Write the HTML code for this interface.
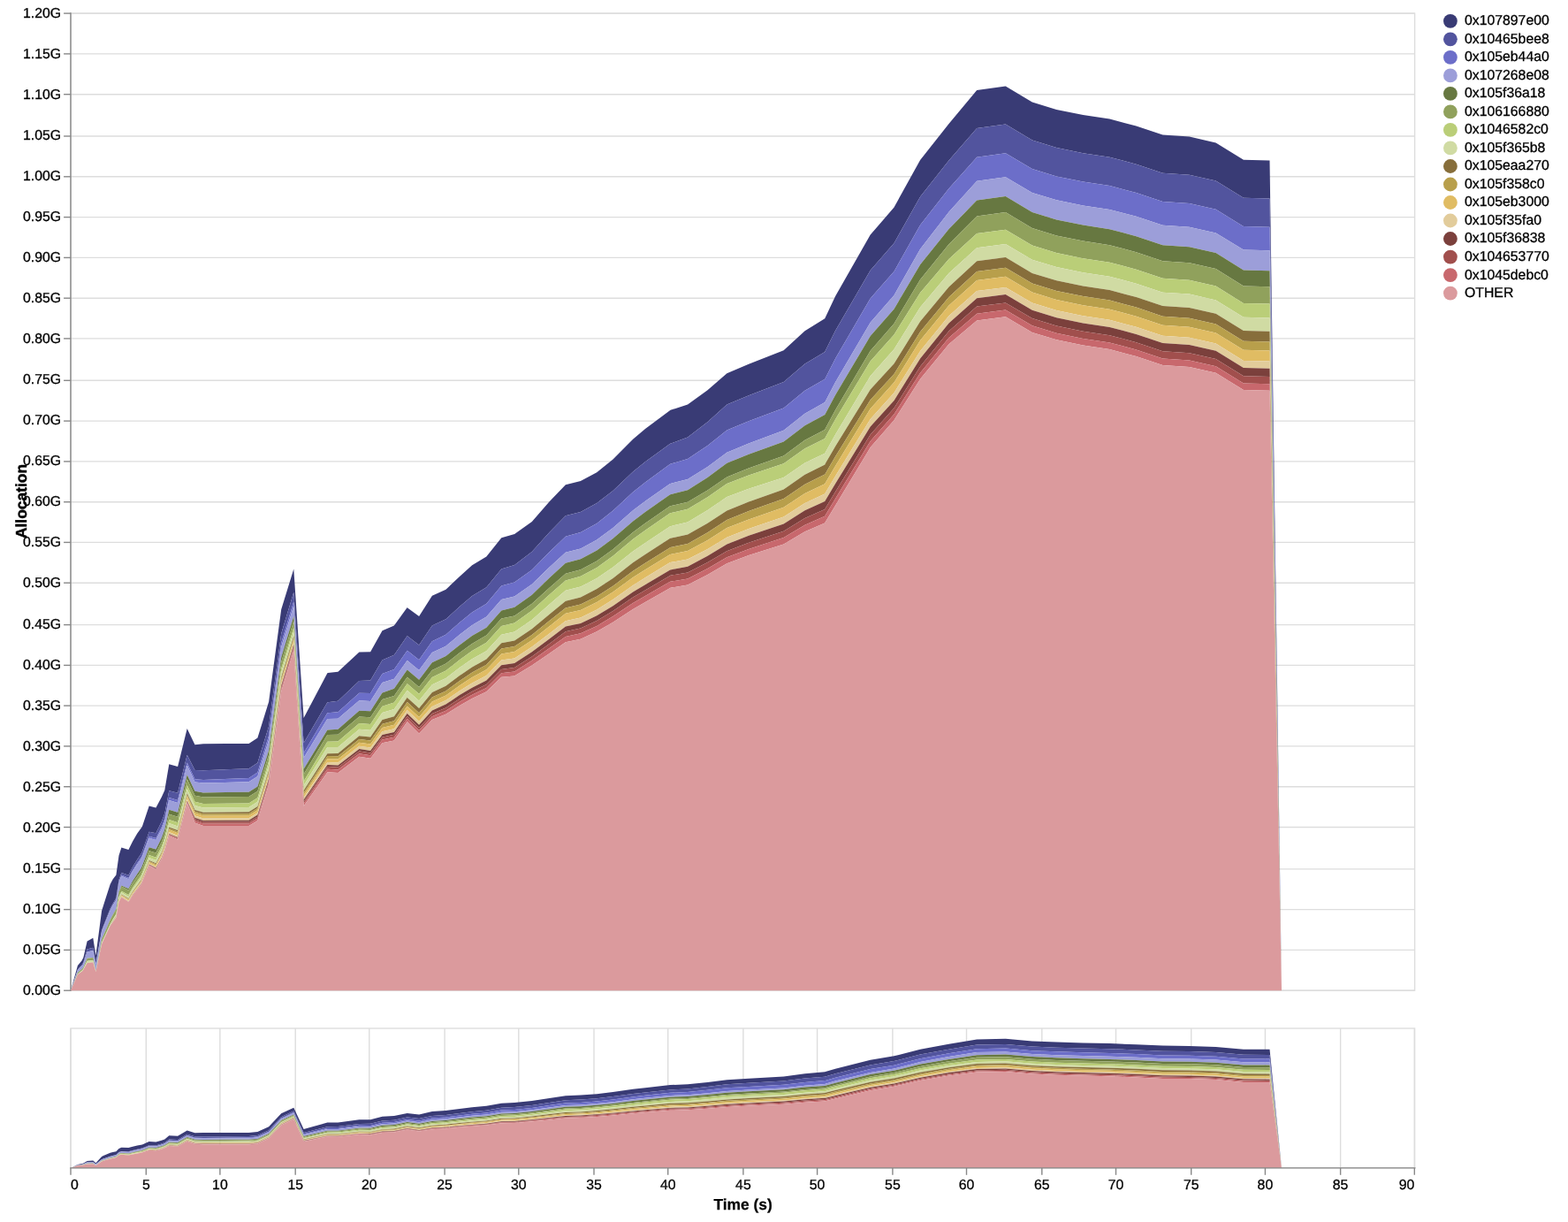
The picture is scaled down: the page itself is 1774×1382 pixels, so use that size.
<!DOCTYPE html>
<html lang="en">
<head>
<meta charset="utf-8">
<title>Allocation over time</title>
<style>
html,body{margin:0;padding:0;background:#fff;}
body{width:1774px;height:1382px;overflow:hidden;}
svg{display:block;}
text{text-rendering:geometricPrecision;}
</style>
</head>
<body>
<svg width="1774" height="1382" viewBox="0 0 1774 1382">
<rect width="1774" height="1382" fill="#fff"/>
<g class="grid" stroke="#ddd" stroke-width="1.4" fill="none">
<line x1="80" y1="15.1" x2="1600.6" y2="15.1"/>
<line x1="80" y1="60.9" x2="1600.6" y2="60.9"/>
<line x1="80" y1="106.7" x2="1600.6" y2="106.7"/>
<line x1="80" y1="154" x2="1600.6" y2="154"/>
<line x1="80" y1="199.8" x2="1600.6" y2="199.8"/>
<line x1="80" y1="245.6" x2="1600.6" y2="245.6"/>
<line x1="80" y1="291.4" x2="1600.6" y2="291.4"/>
<line x1="80" y1="337.2" x2="1600.6" y2="337.2"/>
<line x1="80" y1="382.9" x2="1600.6" y2="382.9"/>
<line x1="80" y1="430.3" x2="1600.6" y2="430.3"/>
<line x1="80" y1="476.1" x2="1600.6" y2="476.1"/>
<line x1="80" y1="521.9" x2="1600.6" y2="521.9"/>
<line x1="80" y1="567.7" x2="1600.6" y2="567.7"/>
<line x1="80" y1="613.4" x2="1600.6" y2="613.4"/>
<line x1="80" y1="659.2" x2="1600.6" y2="659.2"/>
<line x1="80" y1="706.6" x2="1600.6" y2="706.6"/>
<line x1="80" y1="752.4" x2="1600.6" y2="752.4"/>
<line x1="80" y1="798.1" x2="1600.6" y2="798.1"/>
<line x1="80" y1="843.9" x2="1600.6" y2="843.9"/>
<line x1="80" y1="889.7" x2="1600.6" y2="889.7"/>
<line x1="80" y1="935.5" x2="1600.6" y2="935.5"/>
<line x1="80" y1="982.9" x2="1600.6" y2="982.9"/>
<line x1="80" y1="1028.6" x2="1600.6" y2="1028.6"/>
<line x1="80" y1="1074.4" x2="1600.6" y2="1074.4"/>
<line x1="80" y1="1120.2" x2="1600.6" y2="1120.2"/>
</g>
<rect x="80" y="15.1" width="1520.6" height="1105.1" fill="none" stroke="#ddd" stroke-width="1.4"/>
<g class="yaxis" stroke="#888" stroke-width="1.4">
<line x1="80" y1="14.2" x2="80" y2="1121.1"/>
<line x1="72.1" y1="15.1" x2="80" y2="15.1"/>
<line x1="72.1" y1="60.9" x2="80" y2="60.9"/>
<line x1="72.1" y1="106.7" x2="80" y2="106.7"/>
<line x1="72.1" y1="154" x2="80" y2="154"/>
<line x1="72.1" y1="199.8" x2="80" y2="199.8"/>
<line x1="72.1" y1="245.6" x2="80" y2="245.6"/>
<line x1="72.1" y1="291.4" x2="80" y2="291.4"/>
<line x1="72.1" y1="337.2" x2="80" y2="337.2"/>
<line x1="72.1" y1="382.9" x2="80" y2="382.9"/>
<line x1="72.1" y1="430.3" x2="80" y2="430.3"/>
<line x1="72.1" y1="476.1" x2="80" y2="476.1"/>
<line x1="72.1" y1="521.9" x2="80" y2="521.9"/>
<line x1="72.1" y1="567.7" x2="80" y2="567.7"/>
<line x1="72.1" y1="613.4" x2="80" y2="613.4"/>
<line x1="72.1" y1="659.2" x2="80" y2="659.2"/>
<line x1="72.1" y1="706.6" x2="80" y2="706.6"/>
<line x1="72.1" y1="752.4" x2="80" y2="752.4"/>
<line x1="72.1" y1="798.1" x2="80" y2="798.1"/>
<line x1="72.1" y1="843.9" x2="80" y2="843.9"/>
<line x1="72.1" y1="889.7" x2="80" y2="889.7"/>
<line x1="72.1" y1="935.5" x2="80" y2="935.5"/>
<line x1="72.1" y1="982.9" x2="80" y2="982.9"/>
<line x1="72.1" y1="1028.6" x2="80" y2="1028.6"/>
<line x1="72.1" y1="1074.4" x2="80" y2="1074.4"/>
<line x1="72.1" y1="1120.2" x2="80" y2="1120.2"/>
</g>
<g class="areas main">
<path d="M80,1120.2L87.9,1092.1L92.5,1086.5L93.8,1083.9L94.4,1082.7L98.6,1064.5L105.3,1060.8L108.4,1080.8L115.1,1030.1L117,1023.9L124.7,1000.1L127.6,994.4L131.4,989.4L134.5,967.5L137.4,958.5L145.4,960.9L150.1,951.5L155.3,942.5L159.5,936.7L160.9,934.8L168.7,911.5L176.4,913.6L182.8,901.6L186.3,893.8L191.3,864.2L201.1,867L211.7,824L220.5,842.3L230,841.3L281.5,840.9L291.4,834.6L304.1,793.7L318.2,689.3L332.3,643.4L343.6,812L370.4,761.2L370.9,761.1L382.4,759.8L406.4,737.5L419.1,737.2L432.5,713.2L445.9,707.6L460.7,687.1L460.8,687.2L474.1,697L488.9,673.7L504.4,666.7L520,652L534.1,639.3L550.3,629.4L567.3,608.3L582.1,604L601.8,589.9L621.6,567.3L639.9,548.3L656.9,544.1L675.2,534.2L693.5,519.4L716.1,496.8L730,485.1L758.2,463.9L758.5,463.8L778,457.6L800.5,441.3L822.4,422.3L847.1,411.7L886.6,396.2L910.6,374.3L933.2,360.2L933.9,358.7L945.1,335L984.7,265.6L1011.5,234.5L1041.1,180.9L1073.5,140L1105.2,102.1L1137.7,97.6L1167.8,115.6L1195.3,123.9L1225.4,130.1L1255.4,134.6L1285.5,142.6L1315.5,152.6L1345.6,154.6L1375.6,161.4L1406.9,180.7L1436.5,181.4L1450,1120.2L1436.5,224.6L1406.9,223.8L1375.6,204.5L1345.6,197.7L1315.5,195.7L1285.5,185.7L1255.4,177.7L1225.4,173.2L1195.3,166.9L1167.8,158.6L1137.7,140.6L1105.2,145.1L1073.5,181.4L1041.1,222.4L1011.5,275.1L984.7,305.7L945.1,373.9L933.9,396.5L933.2,398L910.6,411.4L886.6,432.1L847.1,447.2L822.4,457.6L800.5,477.2L778,494.4L758.5,501.7L758.2,501.8L730,522.3L716.1,533.5L693.5,554.9L675.2,569.1L656.9,579L639.9,583.3L621.6,602.1L601.8,624L582.1,638.9L567.3,643.6L550.3,664.2L534.1,674.1L520,686.1L504.4,700.2L488.9,707.6L474.1,729.5L460.8,719.3L460.7,719.2L445.9,740.8L432.5,746.4L419.1,769.6L406.4,770L382.4,792.7L370.9,794.3L370.4,794.3L343.6,840.2L332.3,669.8L318.2,716.4L304.1,821.4L291.4,862.7L281.5,869.2L230,871.2L220.5,871L211.7,853.7L201.1,896.8L191.3,894.2L186.3,920L182.8,929.2L176.4,942.2L168.7,940.8L160.9,963L159.5,965.8L155.3,972L150.1,980.6L145.4,989.8L137.4,987.1L134.5,995.2L131.4,1015.6L127.6,1021.9L124.7,1027.6L117,1047.1L115.1,1052.1L108.4,1089.8L105.3,1071.8L98.6,1073.4L94.4,1088L93.8,1089.2L92.5,1091.3L87.9,1096.6L80,1120.2Z" fill="#393b75"/>
<path d="M80,1120.2L87.9,1096.6L92.5,1091.3L93.8,1089.2L94.4,1088L98.6,1073.4L105.3,1071.8L108.4,1089.8L115.1,1052.1L117,1047.1L124.7,1027.6L127.6,1021.9L131.4,1015.6L134.5,995.2L137.4,987.1L145.4,989.8L150.1,980.6L155.3,972L159.5,965.8L160.9,963L168.7,940.8L176.4,942.2L182.8,929.2L186.3,920L191.3,894.2L201.1,896.8L211.7,853.7L220.5,871L230,871.2L281.5,869.2L291.4,862.7L304.1,821.4L318.2,716.4L332.3,669.8L343.6,840.2L370.4,794.3L370.9,794.3L382.4,792.7L406.4,770L419.1,769.6L432.5,746.4L445.9,740.8L460.7,719.2L460.8,719.3L474.1,729.5L488.9,707.6L504.4,700.2L520,686.1L534.1,674.1L550.3,664.2L567.3,643.6L582.1,638.9L601.8,624L621.6,602.1L639.9,583.3L656.9,579L675.2,569.1L693.5,554.9L716.1,533.5L730,522.3L758.2,501.8L758.5,501.7L778,494.4L800.5,477.2L822.4,457.6L847.1,447.2L886.6,432.1L910.6,411.4L933.2,398L933.9,396.5L945.1,373.9L984.7,305.7L1011.5,275.1L1041.1,222.4L1073.5,181.4L1105.2,145.1L1137.7,140.6L1167.8,158.6L1195.3,166.9L1225.4,173.2L1255.4,177.7L1285.5,185.7L1315.5,195.7L1345.6,197.7L1375.6,204.5L1406.9,223.8L1436.5,224.6L1450,1120.2L1436.5,256.7L1406.9,256.1L1375.6,236.8L1345.6,230L1315.5,228L1285.5,218.1L1255.4,210.1L1225.4,205.6L1195.3,199.4L1167.8,191.1L1137.7,173.2L1105.2,177.7L1073.5,213.2L1041.1,254.6L1011.5,307L984.7,337.6L945.1,405.4L933.9,427.4L933.2,428.8L910.6,441.7L886.6,461.4L847.1,476.2L822.4,486.4L800.5,503.9L778,519L758.5,524.7L758.2,524.8L730,545.5L716.1,556.6L693.5,577.6L675.2,591.9L656.9,602L639.9,606.8L621.6,624.3L601.8,644.5L582.1,658.6L567.3,662.5L550.3,682.7L534.1,692.5L520,704.1L504.4,717.7L488.9,725.2L474.1,746.3L460.8,735.8L460.7,735.7L445.9,757L432.5,762L419.1,784L406.4,783.7L382.4,805.3L370.9,806.3L370.4,806.3L343.6,851.4L332.3,680.2L318.2,726.9L304.1,832L291.4,873.4L281.5,879.9L230,881.9L220.5,881.3L211.7,862.4L201.1,905.1L191.3,902.1L186.3,926.3L182.8,935.4L176.4,947.9L168.7,945.7L160.9,967.2L159.5,970L155.3,975.9L150.1,984.1L145.4,992.9L137.4,989.6L134.5,997.4L131.4,1017.5L127.6,1023.6L124.7,1029.2L117,1048.3L115.1,1053.1L108.4,1090.3L105.3,1074.9L98.6,1076.4L94.4,1089.5L93.8,1090.7L92.5,1092.5L87.9,1097.1L80,1120.2Z" fill="#52549e"/>
<path d="M80,1120.2L87.9,1097.1L92.5,1092.5L93.8,1090.7L94.4,1089.5L98.6,1076.4L105.3,1074.9L108.4,1090.3L115.1,1053.1L117,1048.3L124.7,1029.2L127.6,1023.6L131.4,1017.5L134.5,997.4L137.4,989.6L145.4,992.9L150.1,984.1L155.3,975.9L159.5,970L160.9,967.2L168.7,945.7L176.4,947.9L182.8,935.4L186.3,926.3L191.3,902.1L201.1,905.1L211.7,862.4L220.5,881.3L230,881.9L281.5,879.9L291.4,873.4L304.1,832L318.2,726.9L332.3,680.2L343.6,851.4L370.4,806.3L370.9,806.3L382.4,805.3L406.4,783.7L419.1,784L432.5,762L445.9,757L460.7,735.7L460.8,735.8L474.1,746.3L488.9,725.2L504.4,717.7L520,704.1L534.1,692.5L550.3,682.7L567.3,662.5L582.1,658.6L601.8,644.5L621.6,624.3L639.9,606.8L656.9,602L675.2,591.9L693.5,577.6L716.1,556.6L730,545.5L758.2,524.8L758.5,524.7L778,519L800.5,503.9L822.4,486.4L847.1,476.2L886.6,461.4L910.6,441.7L933.2,428.8L933.9,427.4L945.1,405.4L984.7,337.6L1011.5,307L1041.1,254.6L1073.5,213.2L1105.2,177.7L1137.7,173.2L1167.8,191.1L1195.3,199.4L1225.4,205.6L1255.4,210.1L1285.5,218.1L1315.5,228L1345.6,230L1375.6,236.8L1406.9,256.1L1436.5,256.7L1450,1120.2L1436.5,283.2L1406.9,282.6L1375.6,263.4L1345.6,256.7L1315.5,254.7L1285.5,244.8L1255.4,236.9L1225.4,232.4L1195.3,226.3L1167.8,218L1137.7,200.2L1105.2,204.7L1073.5,239.8L1041.1,281.8L1011.5,334L984.7,364.8L945.1,432.3L933.9,453.8L933.2,455.1L910.6,467.7L886.6,486.7L847.1,501.5L822.4,511.8L800.5,528L778,542L758.5,546.9L758.2,547L730,566.7L716.1,577.2L693.5,597.1L675.2,610.6L656.9,620.4L639.9,624.8L621.6,641.5L601.8,660.7L582.1,674.5L567.3,677.9L550.3,697.5L534.1,706.9L520,717.8L504.4,730.7L488.9,737.9L474.1,758.1L460.8,747.1L460.7,747L445.9,767.8L432.5,772.1L419.1,793.1L406.4,792.3L382.4,812.7L370.9,813.1L370.4,813.1L343.6,857L332.3,685.3L318.2,731.8L304.1,836.7L291.4,877.9L281.5,884.3L230,885.5L220.5,884.6L211.7,865.6L201.1,908.1L191.3,905L186.3,928.7L182.8,937.8L176.4,950.1L168.7,947.7L160.9,968.9L159.5,971.7L155.3,977.5L150.1,985.6L145.4,994.3L137.4,990.8L134.5,998.4L131.4,1018.3L127.6,1024.3L124.7,1029.7L117,1048.4L115.1,1053.1L108.4,1090.3L105.3,1074.9L98.6,1076.4L94.4,1089.5L93.8,1090.7L92.5,1092.5L87.9,1097.1L80,1120.2Z" fill="#6c6ec9"/>
<path d="M80,1120.2L87.9,1097.1L92.5,1092.5L93.8,1090.7L94.4,1089.5L98.6,1076.4L105.3,1074.9L108.4,1090.3L115.1,1053.1L117,1048.4L124.7,1029.7L127.6,1024.3L131.4,1018.3L134.5,998.4L137.4,990.8L145.4,994.3L150.1,985.6L155.3,977.5L159.5,971.7L160.9,968.9L168.7,947.7L176.4,950.1L182.8,937.8L186.3,928.7L191.3,905L201.1,908.1L211.7,865.6L220.5,884.6L230,885.5L281.5,884.3L291.4,877.9L304.1,836.7L318.2,731.8L332.3,685.3L343.6,857L370.4,813.1L370.9,813.1L382.4,812.7L406.4,792.3L419.1,793.1L432.5,772.1L445.9,767.8L460.7,747L460.8,747.1L474.1,758.1L488.9,737.9L504.4,730.7L520,717.8L534.1,706.9L550.3,697.5L567.3,677.9L582.1,674.5L601.8,660.7L621.6,641.5L639.9,624.8L656.9,620.4L675.2,610.6L693.5,597.1L716.1,577.2L730,566.7L758.2,547L758.5,546.9L778,542L800.5,528L822.4,511.8L847.1,501.5L886.6,486.7L910.6,467.7L933.2,455.1L933.9,453.8L945.1,432.3L984.7,364.8L1011.5,334L1041.1,281.8L1073.5,239.8L1105.2,204.7L1137.7,200.2L1167.8,218L1195.3,226.3L1225.4,232.4L1255.4,236.9L1285.5,244.8L1315.5,254.7L1345.6,256.7L1375.6,263.4L1406.9,282.6L1436.5,283.2L1450,1120.2L1436.5,306.2L1406.9,305.4L1375.6,286.1L1345.6,279.3L1315.5,277.2L1285.5,267.2L1255.4,259.2L1225.4,254.6L1195.3,248.4L1167.8,240L1137.7,222.1L1105.2,226.5L1073.5,259.1L1041.1,299.3L1011.5,349.5L984.7,379.9L945.1,446.7L933.9,467.7L933.2,469L910.6,481.2L886.6,499.5L847.1,513.8L822.4,523.8L800.5,540L778,554.2L758.5,559.2L758.2,559.3L730,579L716.1,589.4L693.5,609L675.2,622.4L656.9,632.2L639.9,636.8L621.6,653.6L601.8,672.7L582.1,686.8L567.3,690.5L550.3,709.7L534.1,718.9L520,729.5L504.4,742L488.9,749.2L474.1,768.8L460.8,757.5L460.7,757.4L445.9,778.8L432.5,783.4L419.1,804.3L406.4,803.8L382.4,824.7L370.9,825.4L370.4,825.4L343.6,869.8L332.3,697L318.2,743.5L304.1,848.4L291.4,889.4L281.5,895.7L230,896.4L220.5,894.8L211.7,876.2L201.1,918.8L191.3,915.8L186.3,938.1L182.8,947.7L176.4,960.4L168.7,958.3L160.9,979.1L159.5,982.2L155.3,988.3L150.1,996.3L145.4,1004.9L137.4,1001.4L134.5,1008.6L131.4,1028L127.6,1034.5L124.7,1039.9L117,1057.7L115.1,1062.1L108.4,1097.8L105.3,1082.9L98.6,1083.7L94.4,1093.7L93.8,1094.8L92.5,1096.1L87.9,1100.1L80,1120.2Z" fill="#9c9ed9"/>
<path d="M80,1120.2L87.9,1100.1L92.5,1096.1L93.8,1094.8L94.4,1093.7L98.6,1083.7L105.3,1082.9L108.4,1097.8L115.1,1062.1L117,1057.7L124.7,1039.9L127.6,1034.5L131.4,1028L134.5,1008.6L137.4,1001.4L145.4,1004.9L150.1,996.3L155.3,988.3L159.5,982.2L160.9,979.1L168.7,958.3L176.4,960.4L182.8,947.7L186.3,938.1L191.3,915.8L201.1,918.8L211.7,876.2L220.5,894.8L230,896.4L281.5,895.7L291.4,889.4L304.1,848.4L318.2,743.5L332.3,697L343.6,869.8L370.4,825.4L370.9,825.4L382.4,824.7L406.4,803.8L419.1,804.3L432.5,783.4L445.9,778.8L460.7,757.4L460.8,757.5L474.1,768.8L488.9,749.2L504.4,742L520,729.5L534.1,718.9L550.3,709.7L567.3,690.5L582.1,686.8L601.8,672.7L621.6,653.6L639.9,636.8L656.9,632.2L675.2,622.4L693.5,609L716.1,589.4L730,579L758.2,559.3L758.5,559.2L778,554.2L800.5,540L822.4,523.8L847.1,513.8L886.6,499.5L910.6,481.2L933.2,469L933.9,467.7L945.1,446.7L984.7,379.9L1011.5,349.5L1041.1,299.3L1073.5,259.1L1105.2,226.5L1137.7,222.1L1167.8,240L1195.3,248.4L1225.4,254.6L1255.4,259.2L1285.5,267.2L1315.5,277.2L1345.6,279.3L1375.6,286.1L1406.9,305.4L1436.5,306.2L1450,1120.2L1436.5,324.2L1406.9,323.5L1375.6,304.1L1345.6,297.3L1315.5,295.3L1285.5,285.2L1255.4,277.2L1225.4,272.6L1195.3,266.4L1167.8,258L1137.7,240.1L1105.2,244.4L1073.5,276.2L1041.1,316.3L1011.5,365.9L984.7,396.7L945.1,463.8L933.9,484.6L933.2,485.9L910.6,497.7L886.6,515.4L847.1,529.5L822.4,539.4L800.5,554.6L778,567.8L758.5,572.2L758.2,572.3L730,591.8L716.1,602L693.5,621.2L675.2,634.4L656.9,644.2L639.9,648.7L621.6,664.8L601.8,682.8L582.1,696.4L567.3,699.6L550.3,718.6L534.1,727.9L520,738.2L504.4,750.6L488.9,757.9L474.1,777.1L460.8,765.8L460.7,765.7L445.9,786.9L432.5,791L419.1,811.3L406.4,810.4L382.4,830.7L370.9,831L370.4,831L343.6,875.4L332.3,702.2L318.2,748.7L304.1,853.6L291.4,894.7L281.5,900.9L230,901.6L220.5,899.8L211.7,881.3L201.1,923.8L191.3,920.7L186.3,942.3L182.8,951.9L176.4,964.5L168.7,962.2L160.9,982.2L159.5,985.3L155.3,991L150.1,998.4L145.4,1006.7L137.4,1002.4L134.5,1009.5L131.4,1028.7L127.6,1035.1L124.7,1040.4L117,1058L115.1,1062.4L108.4,1097.8L105.3,1082.9L98.6,1083.7L94.4,1093.7L93.8,1094.8L92.5,1096.1L87.9,1100.1L80,1120.2Z" fill="#677841"/>
<path d="M80,1120.2L87.9,1100.1L92.5,1096.1L93.8,1094.8L94.4,1093.7L98.6,1083.7L105.3,1082.9L108.4,1097.8L115.1,1062.4L117,1058L124.7,1040.4L127.6,1035.1L131.4,1028.7L134.5,1009.5L137.4,1002.4L145.4,1006.7L150.1,998.4L155.3,991L159.5,985.3L160.9,982.2L168.7,962.2L176.4,964.5L182.8,951.9L186.3,942.3L191.3,920.7L201.1,923.8L211.7,881.3L220.5,899.8L230,901.6L281.5,900.9L291.4,894.7L304.1,853.6L318.2,748.7L332.3,702.2L343.6,875.4L370.4,831L370.9,831L382.4,830.7L406.4,810.4L419.1,811.3L432.5,791L445.9,786.9L460.7,765.7L460.8,765.8L474.1,777.1L488.9,757.9L504.4,750.6L520,738.2L534.1,727.9L550.3,718.6L567.3,699.6L582.1,696.4L601.8,682.8L621.6,664.8L639.9,648.7L656.9,644.2L675.2,634.4L693.5,621.2L716.1,602L730,591.8L758.2,572.3L758.5,572.2L778,567.8L800.5,554.6L822.4,539.4L847.1,529.5L886.6,515.4L910.6,497.7L933.2,485.9L933.9,484.6L945.1,463.8L984.7,396.7L1011.5,365.9L1041.1,316.3L1073.5,276.2L1105.2,244.4L1137.7,240.1L1167.8,258L1195.3,266.4L1225.4,272.6L1255.4,277.2L1285.5,285.2L1315.5,295.3L1345.6,297.3L1375.6,304.1L1406.9,323.5L1436.5,324.2L1450,1120.2L1436.5,343.6L1406.9,342.9L1375.6,323.6L1345.6,316.8L1315.5,314.8L1285.5,304.7L1255.4,296.7L1225.4,292.2L1195.3,286L1167.8,277.6L1137.7,259.7L1105.2,264L1073.5,293.1L1041.1,331.1L1011.5,378.5L984.7,408.5L945.1,474.3L933.9,494.6L933.2,495.9L910.6,507.2L886.6,524.2L847.1,537.6L822.4,547.1L800.5,562.3L778,575.7L758.5,580.2L758.2,580.2L730,599.7L716.1,609.8L693.5,628.8L675.2,641.9L656.9,651.8L639.9,656.4L621.6,672.6L601.8,690.6L582.1,704.6L567.3,707.9L550.3,726.8L534.1,736.1L520,746.3L504.4,758.5L488.9,765.9L474.1,784.7L460.8,773.3L460.7,773.2L445.9,794.6L432.5,798.8L419.1,818.9L406.4,818L382.4,838.4L370.9,838.8L370.4,838.8L343.6,883.5L332.3,709.7L318.2,756.2L304.1,861.1L291.4,902.2L281.5,908.4L230,908.9L220.5,906.7L211.7,888.1L201.1,930.3L191.3,927.1L186.3,947.6L182.8,957.4L176.4,969.7L168.7,967.1L160.9,987.1L159.5,990.3L155.3,996.2L150.1,1003.7L145.4,1012L137.4,1007.8L134.5,1014.6L131.4,1033.4L127.6,1039.8L124.7,1045L117,1061.7L115.1,1065.9L108.4,1098.5L105.3,1086L98.6,1086.8L94.4,1095.5L93.8,1096.6L92.5,1097.7L87.9,1101.6L80,1120.2Z" fill="#90a15c"/>
<path d="M80,1120.2L87.9,1101.6L92.5,1097.7L93.8,1096.6L94.4,1095.5L98.6,1086.8L105.3,1086L108.4,1098.5L115.1,1065.9L117,1061.7L124.7,1045L127.6,1039.8L131.4,1033.4L134.5,1014.6L137.4,1007.8L145.4,1012L150.1,1003.7L155.3,996.2L159.5,990.3L160.9,987.1L168.7,967.1L176.4,969.7L182.8,957.4L186.3,947.6L191.3,927.1L201.1,930.3L211.7,888.1L220.5,906.7L230,908.9L281.5,908.4L291.4,902.2L304.1,861.1L318.2,756.2L332.3,709.7L343.6,883.5L370.4,838.8L370.9,838.8L382.4,838.4L406.4,818L419.1,818.9L432.5,798.8L445.9,794.6L460.7,773.2L460.8,773.3L474.1,784.7L488.9,765.9L504.4,758.5L520,746.3L534.1,736.1L550.3,726.8L567.3,707.9L582.1,704.6L601.8,690.6L621.6,672.6L639.9,656.4L656.9,651.8L675.2,641.9L693.5,628.8L716.1,609.8L730,599.7L758.2,580.2L758.5,580.2L778,575.7L800.5,562.3L822.4,547.1L847.1,537.6L886.6,524.2L910.6,507.2L933.2,495.9L933.9,494.6L945.1,474.3L984.7,408.5L1011.5,378.5L1041.1,331.1L1073.5,293.1L1105.2,264L1137.7,259.7L1167.8,277.6L1195.3,286L1225.4,292.2L1255.4,296.7L1285.5,304.7L1315.5,314.8L1345.6,316.8L1375.6,323.6L1406.9,342.9L1436.5,343.6L1450,1120.2L1436.5,359.4L1406.9,358.7L1375.6,339.4L1345.6,332.6L1315.5,330.7L1285.5,320.7L1255.4,312.7L1225.4,308.2L1195.3,302L1167.8,293.7L1137.7,275.9L1105.2,280.2L1073.5,309.1L1041.1,347.5L1011.5,394.9L984.7,425.3L945.1,491.4L933.9,511.5L933.2,512.8L910.6,523.6L886.6,539.9L847.1,552.7L822.4,561.9L800.5,577.1L778,590.5L758.5,595.2L758.2,595.3L730,613.9L716.1,623.5L693.5,641.5L675.2,654L656.9,663.4L639.9,667.7L621.6,683.5L601.8,700.9L582.1,714.6L567.3,717.8L550.3,736.3L534.1,745.3L520,755.1L504.4,767L488.9,774.2L474.1,792.5L460.8,780.7L460.7,780.7L445.9,802.1L432.5,806.1L419.1,825.8L406.4,824.7L382.4,844.9L370.9,845.1L370.4,845.1L343.6,888.2L332.3,714.1L318.2,760.6L304.1,865.6L291.4,906.7L281.5,912.9L230,913.5L220.5,911.1L211.7,892.4L201.1,934.4L191.3,931.1L186.3,950.9L182.8,960.7L176.4,972.9L168.7,970L160.9,989.6L159.5,992.8L155.3,998.5L150.1,1005.8L145.4,1013.9L137.4,1009.3L134.5,1015.8L131.4,1034.3L127.6,1040.6L124.7,1045.5L117,1062.1L115.1,1066.2L108.4,1098.5L105.3,1086L98.6,1086.8L94.4,1095.5L93.8,1096.6L92.5,1097.7L87.9,1101.6L80,1120.2Z" fill="#bace78"/>
<path d="M80,1120.2L87.9,1101.6L92.5,1097.7L93.8,1096.6L94.4,1095.5L98.6,1086.8L105.3,1086L108.4,1098.5L115.1,1066.2L117,1062.1L124.7,1045.5L127.6,1040.6L131.4,1034.3L134.5,1015.8L137.4,1009.3L145.4,1013.9L150.1,1005.8L155.3,998.5L159.5,992.8L160.9,989.6L168.7,970L176.4,972.9L182.8,960.7L186.3,950.9L191.3,931.1L201.1,934.4L211.7,892.4L220.5,911.1L230,913.5L281.5,912.9L291.4,906.7L304.1,865.6L318.2,760.6L332.3,714.1L343.6,888.2L370.4,845.1L370.9,845.1L382.4,844.9L406.4,824.7L419.1,825.8L432.5,806.1L445.9,802.1L460.7,780.7L460.8,780.7L474.1,792.5L488.9,774.2L504.4,767L520,755.1L534.1,745.3L550.3,736.3L567.3,717.8L582.1,714.6L601.8,700.9L621.6,683.5L639.9,667.7L656.9,663.4L675.2,654L693.5,641.5L716.1,623.5L730,613.9L758.2,595.3L758.5,595.2L778,590.5L800.5,577.1L822.4,561.9L847.1,552.7L886.6,539.9L910.6,523.6L933.2,512.8L933.9,511.5L945.1,491.4L984.7,425.3L1011.5,394.9L1041.1,347.5L1073.5,309.1L1105.2,280.2L1137.7,275.9L1167.8,293.7L1195.3,302L1225.4,308.2L1255.4,312.7L1285.5,320.7L1315.5,330.7L1345.6,332.6L1375.6,339.4L1406.9,358.7L1436.5,359.4L1450,1120.2L1436.5,374.8L1406.9,374.1L1375.6,354.8L1345.6,348L1315.5,346L1285.5,336L1255.4,328L1225.4,323.4L1195.3,317.2L1167.8,308.9L1137.7,291.1L1105.2,295.3L1073.5,324.4L1041.1,363.6L1011.5,411.3L984.7,440.6L945.1,504.8L933.9,524.1L933.2,525.4L910.6,536.8L886.6,553.4L847.1,567.5L822.4,577.5L800.5,591.8L778,604.5L758.5,608.7L758.2,608.7L730,627L716.1,636.3L693.5,653.9L675.2,666.1L656.9,675.5L639.9,679.7L621.6,694.8L601.8,711.3L582.1,724.6L567.3,727.3L550.3,745.6L534.1,754.6L520,764.1L504.4,775.7L488.9,783L474.1,800.9L460.8,788.9L460.7,788.8L445.9,810.3L432.5,814.1L419.1,833.4L406.4,832.2L382.4,852.1L370.9,852.2L370.4,852.2L343.6,893.9L332.3,719.3L318.2,765.9L304.1,870.9L291.4,912L281.5,918.2L230,918.7L220.5,916L211.7,897.2L201.1,939.1L191.3,935.5L186.3,954.5L182.8,964.2L176.4,976.2L168.7,972.9L160.9,992.3L159.5,995.6L155.3,1001.2L150.1,1008.3L145.4,1016.3L137.4,1011.5L134.5,1017.8L131.4,1036L127.6,1042L124.7,1046.7L117,1063.5L115.1,1067.7L108.4,1099L105.3,1088.3L98.6,1089L94.4,1096.6L93.8,1097.7L92.5,1098.7L87.9,1102.1L80,1120.2Z" fill="#d0dba3"/>
<path d="M80,1120.2L87.9,1102.1L92.5,1098.7L93.8,1097.7L94.4,1096.6L98.6,1089L105.3,1088.3L108.4,1099L115.1,1067.7L117,1063.5L124.7,1046.7L127.6,1042L131.4,1036L134.5,1017.8L137.4,1011.5L145.4,1016.3L150.1,1008.3L155.3,1001.2L159.5,995.6L160.9,992.3L168.7,972.9L176.4,976.2L182.8,964.2L186.3,954.5L191.3,935.5L201.1,939.1L211.7,897.2L220.5,916L230,918.7L281.5,918.2L291.4,912L304.1,870.9L318.2,765.9L332.3,719.3L343.6,893.9L370.4,852.2L370.9,852.2L382.4,852.1L406.4,832.2L419.1,833.4L432.5,814.1L445.9,810.3L460.7,788.8L460.8,788.9L474.1,800.9L488.9,783L504.4,775.7L520,764.1L534.1,754.6L550.3,745.6L567.3,727.3L582.1,724.6L601.8,711.3L621.6,694.8L639.9,679.7L656.9,675.5L675.2,666.1L693.5,653.9L716.1,636.3L730,627L758.2,608.7L758.5,608.7L778,604.5L800.5,591.8L822.4,577.5L847.1,567.5L886.6,553.4L910.6,536.8L933.2,525.4L933.9,524.1L945.1,504.8L984.7,440.6L1011.5,411.3L1041.1,363.6L1073.5,324.4L1105.2,295.3L1137.7,291.1L1167.8,308.9L1195.3,317.2L1225.4,323.4L1255.4,328L1285.5,336L1315.5,346L1345.6,348L1375.6,354.8L1406.9,374.1L1436.5,374.8L1450,1120.2L1436.5,386.5L1406.9,385.8L1375.6,366.5L1345.6,359.7L1315.5,357.7L1285.5,347.6L1255.4,339.6L1225.4,335.1L1195.3,328.9L1167.8,320.5L1137.7,302.8L1105.2,307L1073.5,335.9L1041.1,375.3L1011.5,422.9L984.7,452.2L945.1,516.3L933.9,535.4L933.2,536.6L910.6,547.8L886.6,564.1L847.1,578L822.4,587.9L800.5,602.2L778,614.9L758.5,619.1L758.2,619.2L730,636.8L716.1,645.8L693.5,662.7L675.2,674.5L656.9,683.5L639.9,687.5L621.6,702.1L601.8,718.1L582.1,731.1L567.3,733.6L550.3,751.7L534.1,760.6L520,770L504.4,781.4L488.9,788.6L474.1,806.2L460.8,794.1L460.7,794L445.9,815.3L432.5,818.7L419.1,837.5L406.4,836L382.4,855.2L370.9,855L370.4,855L343.6,896.4L332.3,721.6L318.2,768.1L304.1,873.1L291.4,914.1L281.5,920.2L230,920.5L220.5,917.7L211.7,898.9L201.1,940.6L191.3,937L186.3,955.7L182.8,965.4L176.4,977.3L168.7,973.9L160.9,993.1L159.5,996.4L155.3,1002L150.1,1009L145.4,1016.9L137.4,1012L134.5,1018.2L131.4,1036.4L127.6,1042.4L124.7,1047L117,1063.6L115.1,1067.7L108.4,1099L105.3,1088.3L98.6,1089L94.4,1096.6L93.8,1097.7L92.5,1098.7L87.9,1102.1L80,1120.2Z" fill="#876e3b"/>
<path d="M80,1120.2L87.9,1102.1L92.5,1098.7L93.8,1097.7L94.4,1096.6L98.6,1089L105.3,1088.3L108.4,1099L115.1,1067.7L117,1063.6L124.7,1047L127.6,1042.4L131.4,1036.4L134.5,1018.2L137.4,1012L145.4,1016.9L150.1,1009L155.3,1002L159.5,996.4L160.9,993.1L168.7,973.9L176.4,977.3L182.8,965.4L186.3,955.7L191.3,937L201.1,940.6L211.7,898.9L220.5,917.7L230,920.5L281.5,920.2L291.4,914.1L304.1,873.1L318.2,768.1L332.3,721.6L343.6,896.4L370.4,855L370.9,855L382.4,855.2L406.4,836L419.1,837.5L432.5,818.7L445.9,815.3L460.7,794L460.8,794.1L474.1,806.2L488.9,788.6L504.4,781.4L520,770L534.1,760.6L550.3,751.7L567.3,733.6L582.1,731.1L601.8,718.1L621.6,702.1L639.9,687.5L656.9,683.5L675.2,674.5L693.5,662.7L716.1,645.8L730,636.8L758.2,619.2L758.5,619.1L778,614.9L800.5,602.2L822.4,587.9L847.1,578L886.6,564.1L910.6,547.8L933.2,536.6L933.9,535.4L945.1,516.3L984.7,452.2L1011.5,422.9L1041.1,375.3L1073.5,335.9L1105.2,307L1137.7,302.8L1167.8,320.5L1195.3,328.9L1225.4,335.1L1255.4,339.6L1285.5,347.6L1315.5,357.7L1345.6,359.7L1375.6,366.5L1406.9,385.8L1436.5,386.5L1450,1120.2L1436.5,396.6L1406.9,395.8L1375.6,376.5L1345.6,369.7L1315.5,367.7L1285.5,357.7L1255.4,349.7L1225.4,345.2L1195.3,338.9L1167.8,330.5L1137.7,312.8L1105.2,317L1073.5,345.6L1041.1,385.1L1011.5,432.6L984.7,462.3L945.1,526.9L933.9,545.9L933.2,547.2L910.6,558L886.6,573.8L847.1,587.4L822.4,597.1L800.5,610.9L778,623.1L758.5,626.9L758.2,627L730,644.3L716.1,653L693.5,669.5L675.2,681.1L656.9,689.9L639.9,693.8L621.6,708.3L601.8,723.9L582.1,737L567.3,739.4L550.3,757.3L534.1,766.1L520,775.3L504.4,786.5L488.9,793.6L474.1,810.9L460.8,798.7L460.7,798.6L445.9,819.7L432.5,822.9L419.1,841.4L406.4,839.7L382.4,858.6L370.9,858.2L370.4,858.2L343.6,898.9L332.3,723.8L318.2,770.4L304.1,875.3L291.4,916.3L281.5,922.3L230,922.4L220.5,919.4L211.7,900.5L201.1,942.2L191.3,938.5L186.3,956.9L182.8,966.6L176.4,978.4L168.7,974.9L160.9,993.9L159.5,997.2L155.3,1002.8L150.1,1009.7L145.4,1017.6L137.4,1012.5L134.5,1018.6L131.4,1036.6L127.6,1042.5L124.7,1047L117,1063.6L115.1,1067.7L108.4,1099L105.3,1088.3L98.6,1089L94.4,1096.6L93.8,1097.7L92.5,1098.7L87.9,1102.1L80,1120.2Z" fill="#b89f4b"/>
<path d="M80,1120.2L87.9,1102.1L92.5,1098.7L93.8,1097.7L94.4,1096.6L98.6,1089L105.3,1088.3L108.4,1099L115.1,1067.7L117,1063.6L124.7,1047L127.6,1042.5L131.4,1036.6L134.5,1018.6L137.4,1012.5L145.4,1017.6L150.1,1009.7L155.3,1002.8L159.5,997.2L160.9,993.9L168.7,974.9L176.4,978.4L182.8,966.6L186.3,956.9L191.3,938.5L201.1,942.2L211.7,900.5L220.5,919.4L230,922.4L281.5,922.3L291.4,916.3L304.1,875.3L318.2,770.4L332.3,723.8L343.6,898.9L370.4,858.2L370.9,858.2L382.4,858.6L406.4,839.7L419.1,841.4L432.5,822.9L445.9,819.7L460.7,798.6L460.8,798.7L474.1,810.9L488.9,793.6L504.4,786.5L520,775.3L534.1,766.1L550.3,757.3L567.3,739.4L582.1,737L601.8,723.9L621.6,708.3L639.9,693.8L656.9,689.9L675.2,681.1L693.5,669.5L716.1,653L730,644.3L758.2,627L758.5,626.9L778,623.1L800.5,610.9L822.4,597.1L847.1,587.4L886.6,573.8L910.6,558L933.2,547.2L933.9,545.9L945.1,526.9L984.7,462.3L1011.5,432.6L1041.1,385.1L1073.5,345.6L1105.2,317L1137.7,312.8L1167.8,330.5L1195.3,338.9L1225.4,345.2L1255.4,349.7L1285.5,357.7L1315.5,367.7L1345.6,369.7L1375.6,376.5L1406.9,395.8L1436.5,396.6L1450,1120.2L1436.5,408.6L1406.9,407.9L1375.6,388.6L1345.6,381.8L1315.5,379.8L1285.5,369.8L1255.4,361.8L1225.4,357.2L1195.3,351L1167.8,342.6L1137.7,324.9L1105.2,329.1L1073.5,357.3L1041.1,396.9L1011.5,444.2L984.7,473.9L945.1,538.4L933.9,557.2L933.2,558.4L910.6,569.1L886.6,584.5L847.1,598.1L822.4,607.7L800.5,620.9L778,632.6L758.5,636.1L758.2,636.1L730,653.3L716.1,661.9L693.5,678.1L675.2,689.5L656.9,698.4L639.9,702.3L621.6,716.4L601.8,731.5L582.1,744.4L567.3,746.6L550.3,764.1L534.1,772.5L520,781.3L504.4,792.1L488.9,799L474.1,815.7L460.8,803.2L460.7,803.1L445.9,824.2L432.5,827.3L419.1,845.6L406.4,843.8L382.4,862.5L370.9,862L370.4,862L343.6,901.9L332.3,726.7L318.2,773.2L304.1,878.2L291.4,919.2L281.5,925.3L230,925.5L220.5,922.4L211.7,903.4L201.1,944.9L191.3,941L186.3,958.8L182.8,968.6L176.4,980.3L168.7,976.5L160.9,995.3L159.5,998.6L155.3,1004.1L150.1,1011L145.4,1018.7L137.4,1013.5L134.5,1019.4L131.4,1037.1L127.6,1042.7L124.7,1047L117,1063.6L115.1,1067.7L108.4,1099L105.3,1088.3L98.6,1089L94.4,1096.6L93.8,1097.7L92.5,1098.7L87.9,1102.1L80,1120.2Z" fill="#e0bc63"/>
<path d="M80,1120.2L87.9,1102.1L92.5,1098.7L93.8,1097.7L94.4,1096.6L98.6,1089L105.3,1088.3L108.4,1099L115.1,1067.7L117,1063.6L124.7,1047L127.6,1042.7L131.4,1037.1L134.5,1019.4L137.4,1013.5L145.4,1018.7L150.1,1011L155.3,1004.1L159.5,998.6L160.9,995.3L168.7,976.5L176.4,980.3L182.8,968.6L186.3,958.8L191.3,941L201.1,944.9L211.7,903.4L220.5,922.4L230,925.5L281.5,925.3L291.4,919.2L304.1,878.2L318.2,773.2L332.3,726.7L343.6,901.9L370.4,862L370.9,862L382.4,862.5L406.4,843.8L419.1,845.6L432.5,827.3L445.9,824.2L460.7,803.1L460.8,803.2L474.1,815.7L488.9,799L504.4,792.1L520,781.3L534.1,772.5L550.3,764.1L567.3,746.6L582.1,744.4L601.8,731.5L621.6,716.4L639.9,702.3L656.9,698.4L675.2,689.5L693.5,678.1L716.1,661.9L730,653.3L758.2,636.1L758.5,636.1L778,632.6L800.5,620.9L822.4,607.7L847.1,598.1L886.6,584.5L910.6,569.1L933.2,558.4L933.9,557.2L945.1,538.4L984.7,473.9L1011.5,444.2L1041.1,396.9L1073.5,357.3L1105.2,329.1L1137.7,324.9L1167.8,342.6L1195.3,351L1225.4,357.2L1255.4,361.8L1285.5,369.8L1315.5,379.8L1345.6,381.8L1375.6,388.6L1406.9,407.9L1436.5,408.6L1450,1120.2L1436.5,416.8L1406.9,416.1L1375.6,396.8L1345.6,390L1315.5,388L1285.5,377.9L1255.4,369.9L1225.4,365.4L1195.3,359.2L1167.8,350.8L1137.7,333.1L1105.2,337.3L1073.5,365.5L1041.1,405.5L1011.5,452.9L984.7,482.6L945.1,547L933.9,565.7L933.2,566.9L910.6,577.3L886.6,592.5L847.1,605.8L822.4,615.4L800.5,628.8L778,640.7L758.5,644.4L758.2,644.5L730,661.2L716.1,669.5L693.5,685.2L675.2,696.3L656.9,704.9L639.9,708.6L621.6,722.5L601.8,737.3L582.1,750.1L567.3,752.3L550.3,769.4L534.1,777.7L520,786.1L504.4,796.6L488.9,803.4L474.1,819.7L460.8,806.9L460.7,806.8L445.9,827.9L432.5,830.9L419.1,848.9L406.4,847L382.4,865.5L370.9,864.9L370.4,864.9L343.6,904.4L332.3,728.9L318.2,775.5L304.1,880.6L291.4,921.6L281.5,927.7L230,927.9L220.5,924.8L211.7,905.7L201.1,947L191.3,942.9L186.3,960.4L182.8,970.2L176.4,981.6L168.7,977.6L160.9,996.4L159.5,999.7L155.3,1005.2L150.1,1012L145.4,1019.7L137.4,1014.5L134.5,1020.1L131.4,1037.6L127.6,1042.9L124.7,1047L117,1063.6L115.1,1067.7L108.4,1099L105.3,1088.3L98.6,1089L94.4,1096.6L93.8,1097.7L92.5,1098.7L87.9,1102.1L80,1120.2Z" fill="#e2cc9b"/>
<path d="M80,1120.2L87.9,1102.1L92.5,1098.7L93.8,1097.7L94.4,1096.6L98.6,1089L105.3,1088.3L108.4,1099L115.1,1067.7L117,1063.6L124.7,1047L127.6,1042.9L131.4,1037.6L134.5,1020.1L137.4,1014.5L145.4,1019.7L150.1,1012L155.3,1005.2L159.5,999.7L160.9,996.4L168.7,977.6L176.4,981.6L182.8,970.2L186.3,960.4L191.3,942.9L201.1,947L211.7,905.7L220.5,924.8L230,927.9L281.5,927.7L291.4,921.6L304.1,880.6L318.2,775.5L332.3,728.9L343.6,904.4L370.4,864.9L370.9,864.9L382.4,865.5L406.4,847L419.1,848.9L432.5,830.9L445.9,827.9L460.7,806.8L460.8,806.9L474.1,819.7L488.9,803.4L504.4,796.6L520,786.1L534.1,777.7L550.3,769.4L567.3,752.3L582.1,750.1L601.8,737.3L621.6,722.5L639.9,708.6L656.9,704.9L675.2,696.3L693.5,685.2L716.1,669.5L730,661.2L758.2,644.5L758.5,644.4L778,640.7L800.5,628.8L822.4,615.4L847.1,605.8L886.6,592.5L910.6,577.3L933.2,566.9L933.9,565.7L945.1,547L984.7,482.6L1011.5,452.9L1041.1,405.5L1073.5,365.5L1105.2,337.3L1137.7,333.1L1167.8,350.8L1195.3,359.2L1225.4,365.4L1255.4,369.9L1285.5,377.9L1315.5,388L1345.6,390L1375.6,396.8L1406.9,416.1L1436.5,416.8L1450,1120.2L1436.5,426.1L1406.9,425.3L1375.6,406L1345.6,399.2L1315.5,397.2L1285.5,387.2L1255.4,379.2L1225.4,374.7L1195.3,368.5L1167.8,360.1L1137.7,342.4L1105.2,346.6L1073.5,374.5L1041.1,414.4L1011.5,461.6L984.7,491.6L945.1,556.3L933.9,574.8L933.2,576L910.6,586.1L886.6,600.8L847.1,613.8L822.4,623.2L800.5,636L778,647.4L758.5,650.8L758.2,650.9L730,667.4L716.1,675.6L693.5,691.1L675.2,702L656.9,710.6L639.9,714.3L621.6,727.9L601.8,742.4L582.1,755.1L567.3,757.1L550.3,774L534.1,782L520,790.2L504.4,800.4L488.9,806.9L474.1,822.9L460.8,809.9L460.7,809.8L445.9,830.8L432.5,833.7L419.1,851.5L406.4,849.4L382.4,867.7L370.9,867L370.4,867L343.6,906.6L332.3,730.9L318.2,777.5L304.1,882.5L291.4,923.5L281.5,929.5L230,929.6L220.5,926.3L211.7,906.5L201.1,947.7L191.3,943.5L186.3,960.9L182.8,970.6L176.4,982.1L168.7,978L160.9,996.7L159.5,1000L155.3,1005.4L150.1,1012.2L145.4,1019.8L137.4,1014.5L134.5,1020.1L131.4,1037.6L127.6,1042.9L124.7,1047L117,1063.6L115.1,1067.7L108.4,1099L105.3,1088.3L98.6,1089L94.4,1096.6L93.8,1097.7L92.5,1098.7L87.9,1102.1L80,1120.2Z" fill="#7b403c"/>
<path d="M80,1120.2L87.9,1102.1L92.5,1098.7L93.8,1097.7L94.4,1096.6L98.6,1089L105.3,1088.3L108.4,1099L115.1,1067.7L117,1063.6L124.7,1047L127.6,1042.9L131.4,1037.6L134.5,1020.1L137.4,1014.5L145.4,1019.8L150.1,1012.2L155.3,1005.4L159.5,1000L160.9,996.7L168.7,978L176.4,982.1L182.8,970.6L186.3,960.9L191.3,943.5L201.1,947.7L211.7,906.5L220.5,926.3L230,929.6L281.5,929.5L291.4,923.5L304.1,882.5L318.2,777.5L332.3,730.9L343.6,906.6L370.4,867L370.9,867L382.4,867.7L406.4,849.4L419.1,851.5L432.5,833.7L445.9,830.8L460.7,809.8L460.8,809.9L474.1,822.9L488.9,806.9L504.4,800.4L520,790.2L534.1,782L550.3,774L567.3,757.1L582.1,755.1L601.8,742.4L621.6,727.9L639.9,714.3L656.9,710.6L675.2,702L693.5,691.1L716.1,675.6L730,667.4L758.2,650.9L758.5,650.8L778,647.4L800.5,636L822.4,623.2L847.1,613.8L886.6,600.8L910.6,586.1L933.2,576L933.9,574.8L945.1,556.3L984.7,491.6L1011.5,461.6L1041.1,414.4L1073.5,374.5L1105.2,346.6L1137.7,342.4L1167.8,360.1L1195.3,368.5L1225.4,374.7L1255.4,379.2L1285.5,387.2L1315.5,397.2L1345.6,399.2L1375.6,406L1406.9,425.3L1436.5,426.1L1450,1120.2L1436.5,434.2L1406.9,433.5L1375.6,414.2L1345.6,407.4L1315.5,405.4L1285.5,395.4L1255.4,387.4L1225.4,382.9L1195.3,376.7L1167.8,368.3L1137.7,350.6L1105.2,354.8L1073.5,382.1L1041.1,421.7L1011.5,468.5L984.7,498.9L945.1,564L933.9,582.6L933.2,583.7L910.6,593.7L886.6,608.1L847.1,621L822.4,630.3L800.5,643L778,654.4L758.5,657.8L758.2,657.8L730,674.1L716.1,682.1L693.5,697.1L675.2,707.9L656.9,716.3L639.9,719.9L621.6,733.1L601.8,747.1L582.1,759.5L567.3,761.2L550.3,777.9L534.1,785.8L520,793.8L504.4,803.8L488.9,810.3L474.1,826L460.8,812.9L460.7,812.8L445.9,833.8L432.5,836.6L419.1,854.3L406.4,852.2L382.4,870.5L370.9,869.8L370.4,869.8L343.6,908.8L332.3,733L318.2,779.6L304.1,884.5L291.4,925.5L281.5,931.5L230,931.5L220.5,928.2L211.7,907.4L201.1,948.5L191.3,944.3L186.3,961.5L182.8,971.3L176.4,982.7L168.7,978.5L160.9,997L159.5,1000.4L155.3,1005.7L150.1,1012.4L145.4,1020L137.4,1014.5L134.5,1020.1L131.4,1037.6L127.6,1042.9L124.7,1047L117,1063.6L115.1,1067.7L108.4,1099L105.3,1088.3L98.6,1089L94.4,1096.6L93.8,1097.7L92.5,1098.7L87.9,1102.1L80,1120.2Z" fill="#a14f4d"/>
<path d="M80,1120.2L87.9,1102.1L92.5,1098.7L93.8,1097.7L94.4,1096.6L98.6,1089L105.3,1088.3L108.4,1099L115.1,1067.7L117,1063.6L124.7,1047L127.6,1042.9L131.4,1037.6L134.5,1020.1L137.4,1014.5L145.4,1020L150.1,1012.4L155.3,1005.7L159.5,1000.4L160.9,997L168.7,978.5L176.4,982.7L182.8,971.3L186.3,961.5L191.3,944.3L201.1,948.5L211.7,907.4L220.5,928.2L230,931.5L281.5,931.5L291.4,925.5L304.1,884.5L318.2,779.6L332.3,733L343.6,908.8L370.4,869.8L370.9,869.8L382.4,870.5L406.4,852.2L419.1,854.3L432.5,836.6L445.9,833.8L460.7,812.8L460.8,812.9L474.1,826L488.9,810.3L504.4,803.8L520,793.8L534.1,785.8L550.3,777.9L567.3,761.2L582.1,759.5L601.8,747.1L621.6,733.1L639.9,719.9L656.9,716.3L675.2,707.9L693.5,697.1L716.1,682.1L730,674.1L758.2,657.8L758.5,657.8L778,654.4L800.5,643L822.4,630.3L847.1,621L886.6,608.1L910.6,593.7L933.2,583.7L933.9,582.6L945.1,564L984.7,498.9L1011.5,468.5L1041.1,421.7L1073.5,382.1L1105.2,354.8L1137.7,350.6L1167.8,368.3L1195.3,376.7L1225.4,382.9L1255.4,387.4L1285.5,395.4L1315.5,405.4L1345.6,407.4L1375.6,414.2L1406.9,433.5L1436.5,434.2L1450,1120.2L1436.5,441.8L1406.9,441.1L1375.6,421.8L1345.6,415L1315.5,413L1285.5,403L1255.4,395L1225.4,390.5L1195.3,384.3L1167.8,375.9L1137.7,358.2L1105.2,362.4L1073.5,389.3L1041.1,428.8L1011.5,475.3L984.7,506.1L945.1,571.8L933.9,590.3L933.2,591.5L910.6,601.3L886.6,615.4L847.1,628.1L822.4,637.3L800.5,650L778,661.4L758.5,664.8L758.2,664.9L730,681L716.1,688.9L693.5,703.7L675.2,714.3L656.9,722.7L639.9,726.3L621.6,739L601.8,752.4L582.1,764.4L567.3,765.8L550.3,782.3L534.1,790.1L520,797.9L504.4,807.7L488.9,814.1L474.1,829.6L460.8,816.3L460.7,816.2L445.9,837.4L432.5,840.2L419.1,857.8L406.4,855.7L382.4,874L370.9,873.3L370.4,873.3L343.6,911.4L332.3,735.4L318.2,782L304.1,887L291.4,928L281.5,934L230,934L220.5,930.5L211.7,908.6L201.1,949.6L191.3,945.3L186.3,962.3L182.8,972L176.4,983.3L168.7,979L160.9,997.4L159.5,1000.7L155.3,1006L150.1,1012.6L145.4,1020.1L137.4,1014.5L134.5,1020.1L131.4,1037.6L127.6,1042.9L124.7,1047L117,1063.6L115.1,1067.7L108.4,1099L105.3,1088.3L98.6,1089L94.4,1096.6L93.8,1097.7L92.5,1098.7L87.9,1102.1L80,1120.2Z" fill="#c8686d"/>
<path d="M80,1120.2L87.9,1102.1L92.5,1098.7L93.8,1097.7L94.4,1096.6L98.6,1089L105.3,1088.3L108.4,1099L115.1,1067.7L117,1063.6L124.7,1047L127.6,1042.9L131.4,1037.6L134.5,1020.1L137.4,1014.5L145.4,1020.1L150.1,1012.6L155.3,1006L159.5,1000.7L160.9,997.4L168.7,979L176.4,983.3L182.8,972L186.3,962.3L191.3,945.3L201.1,949.6L211.7,908.6L220.5,930.5L230,934L281.5,934L291.4,928L304.1,887L318.2,782L332.3,735.4L343.6,911.4L370.4,873.3L370.9,873.3L382.4,874L406.4,855.7L419.1,857.8L432.5,840.2L445.9,837.4L460.7,816.2L460.8,816.3L474.1,829.6L488.9,814.1L504.4,807.7L520,797.9L534.1,790.1L550.3,782.3L567.3,765.8L582.1,764.4L601.8,752.4L621.6,739L639.9,726.3L656.9,722.7L675.2,714.3L693.5,703.7L716.1,688.9L730,681L758.2,664.9L758.5,664.8L778,661.4L800.5,650L822.4,637.3L847.1,628.1L886.6,615.4L910.6,601.3L933.2,591.5L933.9,590.3L945.1,571.8L984.7,506.1L1011.5,475.3L1041.1,428.8L1073.5,389.3L1105.2,362.4L1137.7,358.2L1167.8,375.9L1195.3,384.3L1225.4,390.5L1255.4,395L1285.5,403L1315.5,413L1345.6,415L1375.6,421.8L1406.9,441.1L1436.5,441.8L1450,1120.2L1436.5,1120.2L1406.9,1120.2L1375.6,1120.2L1345.6,1120.2L1315.5,1120.2L1285.5,1120.2L1255.4,1120.2L1225.4,1120.2L1195.3,1120.2L1167.8,1120.2L1137.7,1120.2L1105.2,1120.2L1073.5,1120.2L1041.1,1120.2L1011.5,1120.2L984.7,1120.2L945.1,1120.2L933.9,1120.2L933.2,1120.2L910.6,1120.2L886.6,1120.2L847.1,1120.2L822.4,1120.2L800.5,1120.2L778,1120.2L758.5,1120.2L758.2,1120.2L730,1120.2L716.1,1120.2L693.5,1120.2L675.2,1120.2L656.9,1120.2L639.9,1120.2L621.6,1120.2L601.8,1120.2L582.1,1120.2L567.3,1120.2L550.3,1120.2L534.1,1120.2L520,1120.2L504.4,1120.2L488.9,1120.2L474.1,1120.2L460.8,1120.2L460.7,1120.2L445.9,1120.2L432.5,1120.2L419.1,1120.2L406.4,1120.2L382.4,1120.2L370.9,1120.2L370.4,1120.2L343.6,1120.2L332.3,1120.2L318.2,1120.2L304.1,1120.2L291.4,1120.2L281.5,1120.2L230,1120.2L220.5,1120.2L211.7,1120.2L201.1,1120.2L191.3,1120.2L186.3,1120.2L182.8,1120.2L176.4,1120.2L168.7,1120.2L160.9,1120.2L159.5,1120.2L155.3,1120.2L150.1,1120.2L145.4,1120.2L137.4,1120.2L134.5,1120.2L131.4,1120.2L127.6,1120.2L124.7,1120.2L117,1120.2L115.1,1120.2L108.4,1120.2L105.3,1120.2L98.6,1120.2L94.4,1120.2L93.8,1120.2L92.5,1120.2L87.9,1120.2L80,1120.2Z" fill="#db9a9d"/>
</g>
<g class="ylabels" font-family="'Liberation Sans', Arial, Helvetica, sans-serif" font-size="15.8" fill="#000" stroke="#000" stroke-width="0.3" text-anchor="end">
<text x="69" y="19.8">1.20G</text>
<text x="69" y="65.8">1.15G</text>
<text x="69" y="111.9">1.10G</text>
<text x="69" y="157.9">1.05G</text>
<text x="69" y="204">1.00G</text>
<text x="69" y="250">0.95G</text>
<text x="69" y="296.1">0.90G</text>
<text x="69" y="342.1">0.85G</text>
<text x="69" y="388.2">0.80G</text>
<text x="69" y="434.2">0.75G</text>
<text x="69" y="480.3">0.70G</text>
<text x="69" y="526.3">0.65G</text>
<text x="69" y="572.4">0.60G</text>
<text x="69" y="618.4">0.55G</text>
<text x="69" y="664.4">0.50G</text>
<text x="69" y="710.5">0.45G</text>
<text x="69" y="756.5">0.40G</text>
<text x="69" y="802.6">0.35G</text>
<text x="69" y="848.6">0.30G</text>
<text x="69" y="894.7">0.25G</text>
<text x="69" y="940.7">0.20G</text>
<text x="69" y="986.8">0.15G</text>
<text x="69" y="1032.8">0.10G</text>
<text x="69" y="1078.9">0.05G</text>
<text x="69" y="1124.9">0.00G</text>
</g>
<text transform="translate(30,567) rotate(-90)" font-family="'Liberation Sans', Arial, Helvetica, sans-serif" font-size="17.4" font-weight="bold" text-anchor="middle" fill="#000" stroke="#000" stroke-width="0.45">Allocation</text>
<g class="grid2" stroke="#ddd" stroke-width="1.4" fill="none">
<line x1="80" y1="1163" x2="80" y2="1320.9"/>
<line x1="165.3" y1="1163" x2="165.3" y2="1320.9"/>
<line x1="248.9" y1="1163" x2="248.9" y2="1320.9"/>
<line x1="334.2" y1="1163" x2="334.2" y2="1320.9"/>
<line x1="417.8" y1="1163" x2="417.8" y2="1320.9"/>
<line x1="503.1" y1="1163" x2="503.1" y2="1320.9"/>
<line x1="586.8" y1="1163" x2="586.8" y2="1320.9"/>
<line x1="672" y1="1163" x2="672" y2="1320.9"/>
<line x1="755.7" y1="1163" x2="755.7" y2="1320.9"/>
<line x1="840.9" y1="1163" x2="840.9" y2="1320.9"/>
<line x1="924.6" y1="1163" x2="924.6" y2="1320.9"/>
<line x1="1009.9" y1="1163" x2="1009.9" y2="1320.9"/>
<line x1="1093.5" y1="1163" x2="1093.5" y2="1320.9"/>
<line x1="1178.8" y1="1163" x2="1178.8" y2="1320.9"/>
<line x1="1262.5" y1="1163" x2="1262.5" y2="1320.9"/>
<line x1="1347.7" y1="1163" x2="1347.7" y2="1320.9"/>
<line x1="1431.4" y1="1163" x2="1431.4" y2="1320.9"/>
<line x1="1516.6" y1="1163" x2="1516.6" y2="1320.9"/>
<line x1="1600.3" y1="1163" x2="1600.3" y2="1320.9"/>
</g>
<rect x="80" y="1163" width="1520.6" height="157.9" fill="none" stroke="#ddd" stroke-width="1.4"/>
<g class="areas overview">
<path d="M80,1320.9L87.9,1316.9L92.5,1316.1L93.8,1315.7L94.4,1315.5L98.6,1312.9L105.3,1312.4L108.4,1315.3L115.1,1308L117,1307.1L124.7,1303.7L127.6,1302.9L131.4,1302.2L134.5,1299.1L137.4,1297.8L145.4,1298.1L150.1,1296.8L155.3,1295.5L159.5,1294.7L160.9,1294.4L168.7,1291.1L176.4,1291.4L182.8,1289.7L186.3,1288.6L191.3,1284.3L201.1,1284.7L211.7,1278.6L220.5,1281.2L230,1281L281.5,1281L291.4,1280.1L304.1,1274.2L318.2,1259.3L332.3,1252.8L343.6,1276.9L370.4,1269.6L370.9,1269.6L382.4,1269.4L406.4,1266.2L419.1,1266.2L432.5,1262.7L445.9,1261.9L460.7,1259L460.8,1259L474.1,1260.4L488.9,1257.1L504.4,1256.1L520,1254L534.1,1252.2L550.3,1250.8L567.3,1247.8L582.1,1247.1L601.8,1245.1L621.6,1241.9L639.9,1239.2L656.9,1238.6L675.2,1237.2L693.5,1235.1L716.1,1231.8L730,1230.2L758.2,1227.1L758.5,1227.1L778,1226.2L800.5,1223.9L822.4,1221.2L847.1,1219.7L886.6,1217.5L910.6,1214.3L933.2,1212.3L933.9,1212.1L945.1,1208.7L984.7,1198.8L1011.5,1194.3L1041.1,1186.7L1073.5,1180.8L1105.2,1175.4L1137.7,1174.8L1167.8,1177.4L1195.3,1178.5L1225.4,1179.4L1255.4,1180.1L1285.5,1181.2L1315.5,1182.6L1345.6,1182.9L1375.6,1183.9L1406.9,1186.7L1436.5,1186.8L1450,1320.9L1436.5,1192.9L1406.9,1192.8L1375.6,1190.1L1345.6,1189.1L1315.5,1188.8L1285.5,1187.4L1255.4,1186.2L1225.4,1185.6L1195.3,1184.7L1167.8,1183.5L1137.7,1180.9L1105.2,1181.6L1073.5,1186.8L1041.1,1192.6L1011.5,1200.1L984.7,1204.5L945.1,1214.3L933.9,1217.5L933.2,1217.7L910.6,1219.6L886.6,1222.6L847.1,1224.7L822.4,1226.2L800.5,1229L778,1231.5L758.5,1232.5L758.2,1232.5L730,1235.5L716.1,1237.1L693.5,1240.1L675.2,1242.2L656.9,1243.6L639.9,1244.2L621.6,1246.9L601.8,1250L582.1,1252.1L567.3,1252.8L550.3,1255.7L534.1,1257.2L520,1258.9L504.4,1260.9L488.9,1261.9L474.1,1265.1L460.8,1263.6L460.7,1263.6L445.9,1266.7L432.5,1267.5L419.1,1270.8L406.4,1270.9L382.4,1274.1L370.9,1274.3L370.4,1274.3L343.6,1280.9L332.3,1256.6L318.2,1263.2L304.1,1278.2L291.4,1284.1L281.5,1285L230,1285.3L220.5,1285.3L211.7,1282.8L201.1,1289L191.3,1288.6L186.3,1292.3L182.8,1293.6L176.4,1295.5L168.7,1295.3L160.9,1298.4L159.5,1298.8L155.3,1299.7L150.1,1301L145.4,1302.3L137.4,1301.9L134.5,1303L131.4,1306L127.6,1306.9L124.7,1307.7L117,1310.5L115.1,1311.2L108.4,1316.6L105.3,1314L98.6,1314.2L94.4,1316.3L93.8,1316.5L92.5,1316.8L87.9,1317.5L80,1320.9Z" fill="#393b75"/>
<path d="M80,1320.9L87.9,1317.5L92.5,1316.8L93.8,1316.5L94.4,1316.3L98.6,1314.2L105.3,1314L108.4,1316.6L115.1,1311.2L117,1310.5L124.7,1307.7L127.6,1306.9L131.4,1306L134.5,1303L137.4,1301.9L145.4,1302.3L150.1,1301L155.3,1299.7L159.5,1298.8L160.9,1298.4L168.7,1295.3L176.4,1295.5L182.8,1293.6L186.3,1292.3L191.3,1288.6L201.1,1289L211.7,1282.8L220.5,1285.3L230,1285.3L281.5,1285L291.4,1284.1L304.1,1278.2L318.2,1263.2L332.3,1256.6L343.6,1280.9L370.4,1274.3L370.9,1274.3L382.4,1274.1L406.4,1270.9L419.1,1270.8L432.5,1267.5L445.9,1266.7L460.7,1263.6L460.8,1263.6L474.1,1265.1L488.9,1261.9L504.4,1260.9L520,1258.9L534.1,1257.2L550.3,1255.7L567.3,1252.8L582.1,1252.1L601.8,1250L621.6,1246.9L639.9,1244.2L656.9,1243.6L675.2,1242.2L693.5,1240.1L716.1,1237.1L730,1235.5L758.2,1232.5L758.5,1232.5L778,1231.5L800.5,1229L822.4,1226.2L847.1,1224.7L886.6,1222.6L910.6,1219.6L933.2,1217.7L933.9,1217.5L945.1,1214.3L984.7,1204.5L1011.5,1200.1L1041.1,1192.6L1073.5,1186.8L1105.2,1181.6L1137.7,1180.9L1167.8,1183.5L1195.3,1184.7L1225.4,1185.6L1255.4,1186.2L1285.5,1187.4L1315.5,1188.8L1345.6,1189.1L1375.6,1190.1L1406.9,1192.8L1436.5,1192.9L1450,1320.9L1436.5,1197.5L1406.9,1197.4L1375.6,1194.7L1345.6,1193.7L1315.5,1193.4L1285.5,1192L1255.4,1190.9L1225.4,1190.2L1195.3,1189.3L1167.8,1188.2L1137.7,1185.6L1105.2,1186.2L1073.5,1191.3L1041.1,1197.2L1011.5,1204.7L984.7,1209.1L945.1,1218.8L933.9,1221.9L933.2,1222.1L910.6,1224L886.6,1226.8L847.1,1228.9L822.4,1230.3L800.5,1232.8L778,1235L758.5,1235.8L758.2,1235.8L730,1238.8L716.1,1240.4L693.5,1243.4L675.2,1245.4L656.9,1246.9L639.9,1247.5L621.6,1250L601.8,1252.9L582.1,1254.9L567.3,1255.5L550.3,1258.4L534.1,1259.8L520,1261.4L504.4,1263.4L488.9,1264.5L474.1,1267.5L460.8,1266L460.7,1266L445.9,1269L432.5,1269.7L419.1,1272.9L406.4,1272.8L382.4,1275.9L370.9,1276L370.4,1276L343.6,1282.5L332.3,1258L318.2,1264.7L304.1,1279.7L291.4,1285.6L281.5,1286.6L230,1286.9L220.5,1286.8L211.7,1284.1L201.1,1290.2L191.3,1289.7L186.3,1293.2L182.8,1294.5L176.4,1296.3L168.7,1296L160.9,1299L159.5,1299.4L155.3,1300.3L150.1,1301.5L145.4,1302.7L137.4,1302.2L134.5,1303.4L131.4,1306.2L127.6,1307.1L124.7,1307.9L117,1310.6L115.1,1311.3L108.4,1316.6L105.3,1314.4L98.6,1314.6L94.4,1316.5L93.8,1316.7L92.5,1316.9L87.9,1317.6L80,1320.9Z" fill="#52549e"/>
<path d="M80,1320.9L87.9,1317.6L92.5,1316.9L93.8,1316.7L94.4,1316.5L98.6,1314.6L105.3,1314.4L108.4,1316.6L115.1,1311.3L117,1310.6L124.7,1307.9L127.6,1307.1L131.4,1306.2L134.5,1303.4L137.4,1302.2L145.4,1302.7L150.1,1301.5L155.3,1300.3L159.5,1299.4L160.9,1299L168.7,1296L176.4,1296.3L182.8,1294.5L186.3,1293.2L191.3,1289.7L201.1,1290.2L211.7,1284.1L220.5,1286.8L230,1286.9L281.5,1286.6L291.4,1285.6L304.1,1279.7L318.2,1264.7L332.3,1258L343.6,1282.5L370.4,1276L370.9,1276L382.4,1275.9L406.4,1272.8L419.1,1272.9L432.5,1269.7L445.9,1269L460.7,1266L460.8,1266L474.1,1267.5L488.9,1264.5L504.4,1263.4L520,1261.4L534.1,1259.8L550.3,1258.4L567.3,1255.5L582.1,1254.9L601.8,1252.9L621.6,1250L639.9,1247.5L656.9,1246.9L675.2,1245.4L693.5,1243.4L716.1,1240.4L730,1238.8L758.2,1235.8L758.5,1235.8L778,1235L800.5,1232.8L822.4,1230.3L847.1,1228.9L886.6,1226.8L910.6,1224L933.2,1222.1L933.9,1221.9L945.1,1218.8L984.7,1209.1L1011.5,1204.7L1041.1,1197.2L1073.5,1191.3L1105.2,1186.2L1137.7,1185.6L1167.8,1188.2L1195.3,1189.3L1225.4,1190.2L1255.4,1190.9L1285.5,1192L1315.5,1193.4L1345.6,1193.7L1375.6,1194.7L1406.9,1197.4L1436.5,1197.5L1450,1320.9L1436.5,1201.3L1406.9,1201.2L1375.6,1198.5L1345.6,1197.5L1315.5,1197.2L1285.5,1195.8L1255.4,1194.7L1225.4,1194.1L1195.3,1193.2L1167.8,1192L1137.7,1189.4L1105.2,1190.1L1073.5,1195.1L1041.1,1201.1L1011.5,1208.6L984.7,1213L945.1,1222.6L933.9,1225.7L933.2,1225.9L910.6,1227.7L886.6,1230.4L847.1,1232.5L822.4,1234L800.5,1236.3L778,1238.3L758.5,1239L758.2,1239L730,1241.8L716.1,1243.3L693.5,1246.2L675.2,1248.1L656.9,1249.5L639.9,1250.1L621.6,1252.5L601.8,1255.2L582.1,1257.2L567.3,1257.7L550.3,1260.5L534.1,1261.8L520,1263.4L504.4,1265.2L488.9,1266.3L474.1,1269.2L460.8,1267.6L460.7,1267.6L445.9,1270.5L432.5,1271.2L419.1,1274.2L406.4,1274L382.4,1277L370.9,1277L370.4,1277L343.6,1283.3L332.3,1258.8L318.2,1265.4L304.1,1280.4L291.4,1286.3L281.5,1287.2L230,1287.4L220.5,1287.2L211.7,1284.5L201.1,1290.6L191.3,1290.2L186.3,1293.5L182.8,1294.8L176.4,1296.6L168.7,1296.3L160.9,1299.3L159.5,1299.7L155.3,1300.5L150.1,1301.7L145.4,1302.9L137.4,1302.4L134.5,1303.5L131.4,1306.3L127.6,1307.2L124.7,1308L117,1310.6L115.1,1311.3L108.4,1316.6L105.3,1314.4L98.6,1314.6L94.4,1316.5L93.8,1316.7L92.5,1316.9L87.9,1317.6L80,1320.9Z" fill="#6c6ec9"/>
<path d="M80,1320.9L87.9,1317.6L92.5,1316.9L93.8,1316.7L94.4,1316.5L98.6,1314.6L105.3,1314.4L108.4,1316.6L115.1,1311.3L117,1310.6L124.7,1308L127.6,1307.2L131.4,1306.3L134.5,1303.5L137.4,1302.4L145.4,1302.9L150.1,1301.7L155.3,1300.5L159.5,1299.7L160.9,1299.3L168.7,1296.3L176.4,1296.6L182.8,1294.8L186.3,1293.5L191.3,1290.2L201.1,1290.6L211.7,1284.5L220.5,1287.2L230,1287.4L281.5,1287.2L291.4,1286.3L304.1,1280.4L318.2,1265.4L332.3,1258.8L343.6,1283.3L370.4,1277L370.9,1277L382.4,1277L406.4,1274L419.1,1274.2L432.5,1271.2L445.9,1270.5L460.7,1267.6L460.8,1267.6L474.1,1269.2L488.9,1266.3L504.4,1265.2L520,1263.4L534.1,1261.8L550.3,1260.5L567.3,1257.7L582.1,1257.2L601.8,1255.2L621.6,1252.5L639.9,1250.1L656.9,1249.5L675.2,1248.1L693.5,1246.2L716.1,1243.3L730,1241.8L758.2,1239L758.5,1239L778,1238.3L800.5,1236.3L822.4,1234L847.1,1232.5L886.6,1230.4L910.6,1227.7L933.2,1225.9L933.9,1225.7L945.1,1222.6L984.7,1213L1011.5,1208.6L1041.1,1201.1L1073.5,1195.1L1105.2,1190.1L1137.7,1189.4L1167.8,1192L1195.3,1193.2L1225.4,1194.1L1255.4,1194.7L1285.5,1195.8L1315.5,1197.2L1345.6,1197.5L1375.6,1198.5L1406.9,1201.2L1436.5,1201.3L1450,1320.9L1436.5,1204.6L1406.9,1204.5L1375.6,1201.7L1345.6,1200.7L1315.5,1200.5L1285.5,1199L1255.4,1197.9L1225.4,1197.2L1195.3,1196.3L1167.8,1195.1L1137.7,1192.6L1105.2,1193.2L1073.5,1197.9L1041.1,1203.6L1011.5,1210.8L984.7,1215.1L945.1,1224.7L933.9,1227.7L933.2,1227.9L910.6,1229.6L886.6,1232.2L847.1,1234.3L822.4,1235.7L800.5,1238L778,1240L758.5,1240.7L758.2,1240.8L730,1243.6L716.1,1245.1L693.5,1247.9L675.2,1249.8L656.9,1251.2L639.9,1251.8L621.6,1254.2L601.8,1257L582.1,1259L567.3,1259.5L550.3,1262.2L534.1,1263.6L520,1265.1L504.4,1266.9L488.9,1267.9L474.1,1270.7L460.8,1269.1L460.7,1269.1L445.9,1272.1L432.5,1272.8L419.1,1275.8L406.4,1275.7L382.4,1278.7L370.9,1278.8L370.4,1278.8L343.6,1285.1L332.3,1260.4L318.2,1267.1L304.1,1282.1L291.4,1287.9L281.5,1288.8L230,1288.9L220.5,1288.7L211.7,1286L201.1,1292.1L191.3,1291.7L186.3,1294.9L182.8,1296.3L176.4,1298.1L168.7,1297.8L160.9,1300.7L159.5,1301.2L155.3,1302L150.1,1303.2L145.4,1304.4L137.4,1303.9L134.5,1305L131.4,1307.7L127.6,1308.7L124.7,1309.4L117,1312L115.1,1312.6L108.4,1317.7L105.3,1315.6L98.6,1315.7L94.4,1317.1L93.8,1317.3L92.5,1317.5L87.9,1318L80,1320.9Z" fill="#9c9ed9"/>
<path d="M80,1320.9L87.9,1318L92.5,1317.5L93.8,1317.3L94.4,1317.1L98.6,1315.7L105.3,1315.6L108.4,1317.7L115.1,1312.6L117,1312L124.7,1309.4L127.6,1308.7L131.4,1307.7L134.5,1305L137.4,1303.9L145.4,1304.4L150.1,1303.2L155.3,1302L159.5,1301.2L160.9,1300.7L168.7,1297.8L176.4,1298.1L182.8,1296.3L186.3,1294.9L191.3,1291.7L201.1,1292.1L211.7,1286L220.5,1288.7L230,1288.9L281.5,1288.8L291.4,1287.9L304.1,1282.1L318.2,1267.1L332.3,1260.4L343.6,1285.1L370.4,1278.8L370.9,1278.8L382.4,1278.7L406.4,1275.7L419.1,1275.8L432.5,1272.8L445.9,1272.1L460.7,1269.1L460.8,1269.1L474.1,1270.7L488.9,1267.9L504.4,1266.9L520,1265.1L534.1,1263.6L550.3,1262.2L567.3,1259.5L582.1,1259L601.8,1257L621.6,1254.2L639.9,1251.8L656.9,1251.2L675.2,1249.8L693.5,1247.9L716.1,1245.1L730,1243.6L758.2,1240.8L758.5,1240.7L778,1240L800.5,1238L822.4,1235.7L847.1,1234.3L886.6,1232.2L910.6,1229.6L933.2,1227.9L933.9,1227.7L945.1,1224.7L984.7,1215.1L1011.5,1210.8L1041.1,1203.6L1073.5,1197.9L1105.2,1193.2L1137.7,1192.6L1167.8,1195.1L1195.3,1196.3L1225.4,1197.2L1255.4,1197.9L1285.5,1199L1315.5,1200.5L1345.6,1200.7L1375.6,1201.7L1406.9,1204.5L1436.5,1204.6L1450,1320.9L1436.5,1207.2L1406.9,1207.1L1375.6,1204.3L1345.6,1203.3L1315.5,1203L1285.5,1201.6L1255.4,1200.4L1225.4,1199.8L1195.3,1198.9L1167.8,1197.7L1137.7,1195.2L1105.2,1195.8L1073.5,1200.3L1041.1,1206L1011.5,1213.1L984.7,1217.5L945.1,1227.1L933.9,1230.1L933.2,1230.3L910.6,1232L886.6,1234.5L847.1,1236.5L822.4,1237.9L800.5,1240.1L778,1242L758.5,1242.6L758.2,1242.6L730,1245.4L716.1,1246.9L693.5,1249.6L675.2,1251.5L656.9,1252.9L639.9,1253.5L621.6,1255.8L601.8,1258.4L582.1,1260.3L567.3,1260.8L550.3,1263.5L534.1,1264.8L520,1266.3L504.4,1268.1L488.9,1269.1L474.1,1271.9L460.8,1270.3L460.7,1270.2L445.9,1273.3L432.5,1273.9L419.1,1276.8L406.4,1276.6L382.4,1279.5L370.9,1279.6L370.4,1279.6L343.6,1285.9L332.3,1261.2L318.2,1267.8L304.1,1282.8L291.4,1288.7L281.5,1289.6L230,1289.7L220.5,1289.4L211.7,1286.8L201.1,1292.8L191.3,1292.4L186.3,1295.5L182.8,1296.9L176.4,1298.7L168.7,1298.3L160.9,1301.2L159.5,1301.6L155.3,1302.4L150.1,1303.5L145.4,1304.7L137.4,1304.1L134.5,1305.1L131.4,1307.8L127.6,1308.7L124.7,1309.5L117,1312L115.1,1312.6L108.4,1317.7L105.3,1315.6L98.6,1315.7L94.4,1317.1L93.8,1317.3L92.5,1317.5L87.9,1318L80,1320.9Z" fill="#677841"/>
<path d="M80,1320.9L87.9,1318L92.5,1317.5L93.8,1317.3L94.4,1317.1L98.6,1315.7L105.3,1315.6L108.4,1317.7L115.1,1312.6L117,1312L124.7,1309.5L127.6,1308.7L131.4,1307.8L134.5,1305.1L137.4,1304.1L145.4,1304.7L150.1,1303.5L155.3,1302.4L159.5,1301.6L160.9,1301.2L168.7,1298.3L176.4,1298.7L182.8,1296.9L186.3,1295.5L191.3,1292.4L201.1,1292.8L211.7,1286.8L220.5,1289.4L230,1289.7L281.5,1289.6L291.4,1288.7L304.1,1282.8L318.2,1267.8L332.3,1261.2L343.6,1285.9L370.4,1279.6L370.9,1279.6L382.4,1279.5L406.4,1276.6L419.1,1276.8L432.5,1273.9L445.9,1273.3L460.7,1270.2L460.8,1270.3L474.1,1271.9L488.9,1269.1L504.4,1268.1L520,1266.3L534.1,1264.8L550.3,1263.5L567.3,1260.8L582.1,1260.3L601.8,1258.4L621.6,1255.8L639.9,1253.5L656.9,1252.9L675.2,1251.5L693.5,1249.6L716.1,1246.9L730,1245.4L758.2,1242.6L758.5,1242.6L778,1242L800.5,1240.1L822.4,1237.9L847.1,1236.5L886.6,1234.5L910.6,1232L933.2,1230.3L933.9,1230.1L945.1,1227.1L984.7,1217.5L1011.5,1213.1L1041.1,1206L1073.5,1200.3L1105.2,1195.8L1137.7,1195.2L1167.8,1197.7L1195.3,1198.9L1225.4,1199.8L1255.4,1200.4L1285.5,1201.6L1315.5,1203L1345.6,1203.3L1375.6,1204.3L1406.9,1207.1L1436.5,1207.2L1450,1320.9L1436.5,1209.9L1406.9,1209.8L1375.6,1207.1L1345.6,1206.1L1315.5,1205.8L1285.5,1204.4L1255.4,1203.2L1225.4,1202.6L1195.3,1201.7L1167.8,1200.5L1137.7,1198L1105.2,1198.6L1073.5,1202.7L1041.1,1208.2L1011.5,1214.9L984.7,1219.2L945.1,1228.6L933.9,1231.5L933.2,1231.7L910.6,1233.3L886.6,1235.7L847.1,1237.7L822.4,1239L800.5,1241.2L778,1243.1L758.5,1243.7L758.2,1243.8L730,1246.5L716.1,1248L693.5,1250.7L675.2,1252.6L656.9,1254L639.9,1254.6L621.6,1256.9L601.8,1259.5L582.1,1261.5L567.3,1262L550.3,1264.7L534.1,1266L520,1267.5L504.4,1269.2L488.9,1270.3L474.1,1273L460.8,1271.3L460.7,1271.3L445.9,1274.4L432.5,1275L419.1,1277.9L406.4,1277.7L382.4,1280.6L370.9,1280.7L370.4,1280.7L343.6,1287.1L332.3,1262.2L318.2,1268.9L304.1,1283.9L291.4,1289.8L281.5,1290.6L230,1290.7L220.5,1290.4L211.7,1287.7L201.1,1293.8L191.3,1293.3L186.3,1296.2L182.8,1297.6L176.4,1299.4L168.7,1299L160.9,1301.9L159.5,1302.3L155.3,1303.2L150.1,1304.3L145.4,1305.4L137.4,1304.8L134.5,1305.8L131.4,1308.5L127.6,1309.4L124.7,1310.1L117,1312.5L115.1,1313.1L108.4,1317.8L105.3,1316L98.6,1316.1L94.4,1317.4L93.8,1317.5L92.5,1317.7L87.9,1318.2L80,1320.9Z" fill="#90a15c"/>
<path d="M80,1320.9L87.9,1318.2L92.5,1317.7L93.8,1317.5L94.4,1317.4L98.6,1316.1L105.3,1316L108.4,1317.8L115.1,1313.1L117,1312.5L124.7,1310.1L127.6,1309.4L131.4,1308.5L134.5,1305.8L137.4,1304.8L145.4,1305.4L150.1,1304.3L155.3,1303.2L159.5,1302.3L160.9,1301.9L168.7,1299L176.4,1299.4L182.8,1297.6L186.3,1296.2L191.3,1293.3L201.1,1293.8L211.7,1287.7L220.5,1290.4L230,1290.7L281.5,1290.6L291.4,1289.8L304.1,1283.9L318.2,1268.9L332.3,1262.2L343.6,1287.1L370.4,1280.7L370.9,1280.7L382.4,1280.6L406.4,1277.7L419.1,1277.9L432.5,1275L445.9,1274.4L460.7,1271.3L460.8,1271.3L474.1,1273L488.9,1270.3L504.4,1269.2L520,1267.5L534.1,1266L550.3,1264.7L567.3,1262L582.1,1261.5L601.8,1259.5L621.6,1256.9L639.9,1254.6L656.9,1254L675.2,1252.6L693.5,1250.7L716.1,1248L730,1246.5L758.2,1243.8L758.5,1243.7L778,1243.1L800.5,1241.2L822.4,1239L847.1,1237.7L886.6,1235.7L910.6,1233.3L933.2,1231.7L933.9,1231.5L945.1,1228.6L984.7,1219.2L1011.5,1214.9L1041.1,1208.2L1073.5,1202.7L1105.2,1198.6L1137.7,1198L1167.8,1200.5L1195.3,1201.7L1225.4,1202.6L1255.4,1203.2L1285.5,1204.4L1315.5,1205.8L1345.6,1206.1L1375.6,1207.1L1406.9,1209.8L1436.5,1209.9L1450,1320.9L1436.5,1212.2L1406.9,1212.1L1375.6,1209.3L1345.6,1208.4L1315.5,1208.1L1285.5,1206.7L1255.4,1205.5L1225.4,1204.9L1195.3,1204L1167.8,1202.8L1137.7,1200.3L1105.2,1200.9L1073.5,1205L1041.1,1210.5L1011.5,1217.3L984.7,1221.6L945.1,1231.1L933.9,1233.9L933.2,1234.1L910.6,1235.7L886.6,1238L847.1,1239.8L822.4,1241.1L800.5,1243.3L778,1245.2L758.5,1245.9L758.2,1245.9L730,1248.6L716.1,1249.9L693.5,1252.5L675.2,1254.3L656.9,1255.6L639.9,1256.3L621.6,1258.5L601.8,1261L582.1,1263L567.3,1263.4L550.3,1266L534.1,1267.3L520,1268.7L504.4,1270.4L488.9,1271.5L474.1,1274.1L460.8,1272.4L460.7,1272.4L445.9,1275.4L432.5,1276L419.1,1278.8L406.4,1278.7L382.4,1281.6L370.9,1281.6L370.4,1281.6L343.6,1287.8L332.3,1262.9L318.2,1269.5L304.1,1284.5L291.4,1290.4L281.5,1291.3L230,1291.4L220.5,1291L211.7,1288.3L201.1,1294.4L191.3,1293.9L186.3,1296.7L182.8,1298.1L176.4,1299.9L168.7,1299.4L160.9,1302.2L159.5,1302.7L155.3,1303.5L150.1,1304.6L145.4,1305.7L137.4,1305L134.5,1306L131.4,1308.6L127.6,1309.5L124.7,1310.2L117,1312.6L115.1,1313.2L108.4,1317.8L105.3,1316L98.6,1316.1L94.4,1317.4L93.8,1317.5L92.5,1317.7L87.9,1318.2L80,1320.9Z" fill="#bace78"/>
<path d="M80,1320.9L87.9,1318.2L92.5,1317.7L93.8,1317.5L94.4,1317.4L98.6,1316.1L105.3,1316L108.4,1317.8L115.1,1313.2L117,1312.6L124.7,1310.2L127.6,1309.5L131.4,1308.6L134.5,1306L137.4,1305L145.4,1305.7L150.1,1304.6L155.3,1303.5L159.5,1302.7L160.9,1302.2L168.7,1299.4L176.4,1299.9L182.8,1298.1L186.3,1296.7L191.3,1293.9L201.1,1294.4L211.7,1288.3L220.5,1291L230,1291.4L281.5,1291.3L291.4,1290.4L304.1,1284.5L318.2,1269.5L332.3,1262.9L343.6,1287.8L370.4,1281.6L370.9,1281.6L382.4,1281.6L406.4,1278.7L419.1,1278.8L432.5,1276L445.9,1275.4L460.7,1272.4L460.8,1272.4L474.1,1274.1L488.9,1271.5L504.4,1270.4L520,1268.7L534.1,1267.3L550.3,1266L567.3,1263.4L582.1,1263L601.8,1261L621.6,1258.5L639.9,1256.3L656.9,1255.6L675.2,1254.3L693.5,1252.5L716.1,1249.9L730,1248.6L758.2,1245.9L758.5,1245.9L778,1245.2L800.5,1243.3L822.4,1241.1L847.1,1239.8L886.6,1238L910.6,1235.7L933.2,1234.1L933.9,1233.9L945.1,1231.1L984.7,1221.6L1011.5,1217.3L1041.1,1210.5L1073.5,1205L1105.2,1200.9L1137.7,1200.3L1167.8,1202.8L1195.3,1204L1225.4,1204.9L1255.4,1205.5L1285.5,1206.7L1315.5,1208.1L1345.6,1208.4L1375.6,1209.3L1406.9,1212.1L1436.5,1212.2L1450,1320.9L1436.5,1214.4L1406.9,1214.3L1375.6,1211.5L1345.6,1210.6L1315.5,1210.3L1285.5,1208.8L1255.4,1207.7L1225.4,1207.1L1195.3,1206.2L1167.8,1205L1137.7,1202.4L1105.2,1203L1073.5,1207.2L1041.1,1212.8L1011.5,1219.6L984.7,1223.8L945.1,1233L933.9,1235.7L933.2,1235.9L910.6,1237.5L886.6,1239.9L847.1,1241.9L822.4,1243.4L800.5,1245.4L778,1247.2L758.5,1247.8L758.2,1247.8L730,1250.4L716.1,1251.8L693.5,1254.3L675.2,1256L656.9,1257.4L639.9,1258L621.6,1260.1L601.8,1262.5L582.1,1264.4L567.3,1264.8L550.3,1267.4L534.1,1268.7L520,1270L504.4,1271.7L488.9,1272.7L474.1,1275.3L460.8,1273.6L460.7,1273.6L445.9,1276.6L432.5,1277.2L419.1,1279.9L406.4,1279.8L382.4,1282.6L370.9,1282.6L370.4,1282.6L343.6,1288.6L332.3,1263.6L318.2,1270.3L304.1,1285.3L291.4,1291.2L281.5,1292L230,1292.1L220.5,1291.7L211.7,1289L201.1,1295L191.3,1294.5L186.3,1297.2L182.8,1298.6L176.4,1300.3L168.7,1299.9L160.9,1302.6L159.5,1303.1L155.3,1303.9L150.1,1304.9L145.4,1306.1L137.4,1305.4L134.5,1306.3L131.4,1308.9L127.6,1309.7L124.7,1310.4L117,1312.8L115.1,1313.4L108.4,1317.9L105.3,1316.3L98.6,1316.4L94.4,1317.5L93.8,1317.7L92.5,1317.8L87.9,1318.3L80,1320.9Z" fill="#d0dba3"/>
<path d="M80,1320.9L87.9,1318.3L92.5,1317.8L93.8,1317.7L94.4,1317.5L98.6,1316.4L105.3,1316.3L108.4,1317.9L115.1,1313.4L117,1312.8L124.7,1310.4L127.6,1309.7L131.4,1308.9L134.5,1306.3L137.4,1305.4L145.4,1306.1L150.1,1304.9L155.3,1303.9L159.5,1303.1L160.9,1302.6L168.7,1299.9L176.4,1300.3L182.8,1298.6L186.3,1297.2L191.3,1294.5L201.1,1295L211.7,1289L220.5,1291.7L230,1292.1L281.5,1292L291.4,1291.2L304.1,1285.3L318.2,1270.3L332.3,1263.6L343.6,1288.6L370.4,1282.6L370.9,1282.6L382.4,1282.6L406.4,1279.8L419.1,1279.9L432.5,1277.2L445.9,1276.6L460.7,1273.6L460.8,1273.6L474.1,1275.3L488.9,1272.7L504.4,1271.7L520,1270L534.1,1268.7L550.3,1267.4L567.3,1264.8L582.1,1264.4L601.8,1262.5L621.6,1260.1L639.9,1258L656.9,1257.4L675.2,1256L693.5,1254.3L716.1,1251.8L730,1250.4L758.2,1247.8L758.5,1247.8L778,1247.2L800.5,1245.4L822.4,1243.4L847.1,1241.9L886.6,1239.9L910.6,1237.5L933.2,1235.9L933.9,1235.7L945.1,1233L984.7,1223.8L1011.5,1219.6L1041.1,1212.8L1073.5,1207.2L1105.2,1203L1137.7,1202.4L1167.8,1205L1195.3,1206.2L1225.4,1207.1L1255.4,1207.7L1285.5,1208.8L1315.5,1210.3L1345.6,1210.6L1375.6,1211.5L1406.9,1214.3L1436.5,1214.4L1450,1320.9L1436.5,1216.1L1406.9,1216L1375.6,1213.2L1345.6,1212.2L1315.5,1211.9L1285.5,1210.5L1255.4,1209.4L1225.4,1208.7L1195.3,1207.8L1167.8,1206.6L1137.7,1204.1L1105.2,1204.7L1073.5,1208.8L1041.1,1214.5L1011.5,1221.3L984.7,1225.5L945.1,1234.6L933.9,1237.3L933.2,1237.5L910.6,1239.1L886.6,1241.4L847.1,1243.4L822.4,1244.8L800.5,1246.9L778,1248.7L758.5,1249.3L758.2,1249.3L730,1251.8L716.1,1253.1L693.5,1255.5L675.2,1257.2L656.9,1258.5L639.9,1259.1L621.6,1261.2L601.8,1263.4L582.1,1265.3L567.3,1265.7L550.3,1268.3L534.1,1269.5L520,1270.9L504.4,1272.5L488.9,1273.5L474.1,1276L460.8,1274.3L460.7,1274.3L445.9,1277.3L432.5,1277.8L419.1,1280.5L406.4,1280.3L382.4,1283L370.9,1283L370.4,1283L343.6,1288.9L332.3,1263.9L318.2,1270.6L304.1,1285.6L291.4,1291.5L281.5,1292.3L230,1292.4L220.5,1292L211.7,1289.3L201.1,1295.2L191.3,1294.7L186.3,1297.4L182.8,1298.8L176.4,1300.5L168.7,1300L160.9,1302.7L159.5,1303.2L155.3,1304L150.1,1305L145.4,1306.1L137.4,1305.4L134.5,1306.3L131.4,1308.9L127.6,1309.8L124.7,1310.4L117,1312.8L115.1,1313.4L108.4,1317.9L105.3,1316.3L98.6,1316.4L94.4,1317.5L93.8,1317.7L92.5,1317.8L87.9,1318.3L80,1320.9Z" fill="#876e3b"/>
<path d="M80,1320.9L87.9,1318.3L92.5,1317.8L93.8,1317.7L94.4,1317.5L98.6,1316.4L105.3,1316.3L108.4,1317.9L115.1,1313.4L117,1312.8L124.7,1310.4L127.6,1309.8L131.4,1308.9L134.5,1306.3L137.4,1305.4L145.4,1306.1L150.1,1305L155.3,1304L159.5,1303.2L160.9,1302.7L168.7,1300L176.4,1300.5L182.8,1298.8L186.3,1297.4L191.3,1294.7L201.1,1295.2L211.7,1289.3L220.5,1292L230,1292.4L281.5,1292.3L291.4,1291.5L304.1,1285.6L318.2,1270.6L332.3,1263.9L343.6,1288.9L370.4,1283L370.9,1283L382.4,1283L406.4,1280.3L419.1,1280.5L432.5,1277.8L445.9,1277.3L460.7,1274.3L460.8,1274.3L474.1,1276L488.9,1273.5L504.4,1272.5L520,1270.9L534.1,1269.5L550.3,1268.3L567.3,1265.7L582.1,1265.3L601.8,1263.4L621.6,1261.2L639.9,1259.1L656.9,1258.5L675.2,1257.2L693.5,1255.5L716.1,1253.1L730,1251.8L758.2,1249.3L758.5,1249.3L778,1248.7L800.5,1246.9L822.4,1244.8L847.1,1243.4L886.6,1241.4L910.6,1239.1L933.2,1237.5L933.9,1237.3L945.1,1234.6L984.7,1225.5L1011.5,1221.3L1041.1,1214.5L1073.5,1208.8L1105.2,1204.7L1137.7,1204.1L1167.8,1206.6L1195.3,1207.8L1225.4,1208.7L1255.4,1209.4L1285.5,1210.5L1315.5,1211.9L1345.6,1212.2L1375.6,1213.2L1406.9,1216L1436.5,1216.1L1450,1320.9L1436.5,1217.5L1406.9,1217.4L1375.6,1214.6L1345.6,1213.7L1315.5,1213.4L1285.5,1211.9L1255.4,1210.8L1225.4,1210.2L1195.3,1209.3L1167.8,1208.1L1137.7,1205.5L1105.2,1206.1L1073.5,1210.2L1041.1,1215.9L1011.5,1222.7L984.7,1226.9L945.1,1236.1L933.9,1238.8L933.2,1239L910.6,1240.6L886.6,1242.8L847.1,1244.8L822.4,1246.2L800.5,1248.1L778,1249.9L758.5,1250.4L758.2,1250.4L730,1252.9L716.1,1254.1L693.5,1256.5L675.2,1258.2L656.9,1259.4L639.9,1260L621.6,1262L601.8,1264.3L582.1,1266.1L567.3,1266.5L550.3,1269.1L534.1,1270.3L520,1271.6L504.4,1273.2L488.9,1274.2L474.1,1276.7L460.8,1275L460.7,1274.9L445.9,1278L432.5,1278.4L419.1,1281.1L406.4,1280.8L382.4,1283.5L370.9,1283.5L370.4,1283.5L343.6,1289.3L332.3,1264.3L318.2,1270.9L304.1,1285.9L291.4,1291.8L281.5,1292.6L230,1292.6L220.5,1292.2L211.7,1289.5L201.1,1295.5L191.3,1294.9L186.3,1297.6L182.8,1299L176.4,1300.6L168.7,1300.1L160.9,1302.9L159.5,1303.3L155.3,1304.1L150.1,1305.1L145.4,1306.2L137.4,1305.5L134.5,1306.4L131.4,1309L127.6,1309.8L124.7,1310.4L117,1312.8L115.1,1313.4L108.4,1317.9L105.3,1316.3L98.6,1316.4L94.4,1317.5L93.8,1317.7L92.5,1317.8L87.9,1318.3L80,1320.9Z" fill="#b89f4b"/>
<path d="M80,1320.9L87.9,1318.3L92.5,1317.8L93.8,1317.7L94.4,1317.5L98.6,1316.4L105.3,1316.3L108.4,1317.9L115.1,1313.4L117,1312.8L124.7,1310.4L127.6,1309.8L131.4,1309L134.5,1306.4L137.4,1305.5L145.4,1306.2L150.1,1305.1L155.3,1304.1L159.5,1303.3L160.9,1302.9L168.7,1300.1L176.4,1300.6L182.8,1299L186.3,1297.6L191.3,1294.9L201.1,1295.5L211.7,1289.5L220.5,1292.2L230,1292.6L281.5,1292.6L291.4,1291.8L304.1,1285.9L318.2,1270.9L332.3,1264.3L343.6,1289.3L370.4,1283.5L370.9,1283.5L382.4,1283.5L406.4,1280.8L419.1,1281.1L432.5,1278.4L445.9,1278L460.7,1274.9L460.8,1275L474.1,1276.7L488.9,1274.2L504.4,1273.2L520,1271.6L534.1,1270.3L550.3,1269.1L567.3,1266.5L582.1,1266.1L601.8,1264.3L621.6,1262L639.9,1260L656.9,1259.4L675.2,1258.2L693.5,1256.5L716.1,1254.1L730,1252.9L758.2,1250.4L758.5,1250.4L778,1249.9L800.5,1248.1L822.4,1246.2L847.1,1244.8L886.6,1242.8L910.6,1240.6L933.2,1239L933.9,1238.8L945.1,1236.1L984.7,1226.9L1011.5,1222.7L1041.1,1215.9L1073.5,1210.2L1105.2,1206.1L1137.7,1205.5L1167.8,1208.1L1195.3,1209.3L1225.4,1210.2L1255.4,1210.8L1285.5,1211.9L1315.5,1213.4L1345.6,1213.7L1375.6,1214.6L1406.9,1217.4L1436.5,1217.5L1450,1320.9L1436.5,1219.2L1406.9,1219.1L1375.6,1216.4L1345.6,1215.4L1315.5,1215.1L1285.5,1213.7L1255.4,1212.5L1225.4,1211.9L1195.3,1211L1167.8,1209.8L1137.7,1207.3L1105.2,1207.9L1073.5,1211.9L1041.1,1217.6L1011.5,1224.3L984.7,1228.6L945.1,1237.8L933.9,1240.5L933.2,1240.6L910.6,1242.2L886.6,1244.4L847.1,1246.3L822.4,1247.7L800.5,1249.6L778,1251.2L758.5,1251.7L758.2,1251.7L730,1254.2L716.1,1255.4L693.5,1257.7L675.2,1259.4L656.9,1260.6L639.9,1261.2L621.6,1263.2L601.8,1265.4L582.1,1267.2L567.3,1267.5L550.3,1270L534.1,1271.2L520,1272.5L504.4,1274L488.9,1275L474.1,1277.4L460.8,1275.6L460.7,1275.6L445.9,1278.6L432.5,1279.1L419.1,1281.7L406.4,1281.4L382.4,1284.1L370.9,1284L370.4,1284L343.6,1289.7L332.3,1264.7L318.2,1271.3L304.1,1286.3L291.4,1292.2L281.5,1293.1L230,1293.1L220.5,1292.6L211.7,1289.9L201.1,1295.8L191.3,1295.3L186.3,1297.8L182.8,1299.2L176.4,1300.9L168.7,1300.4L160.9,1303.1L159.5,1303.5L155.3,1304.3L150.1,1305.3L145.4,1306.4L137.4,1305.7L134.5,1306.5L131.4,1309L127.6,1309.8L124.7,1310.4L117,1312.8L115.1,1313.4L108.4,1317.9L105.3,1316.3L98.6,1316.4L94.4,1317.5L93.8,1317.7L92.5,1317.8L87.9,1318.3L80,1320.9Z" fill="#e0bc63"/>
<path d="M80,1320.9L87.9,1318.3L92.5,1317.8L93.8,1317.7L94.4,1317.5L98.6,1316.4L105.3,1316.3L108.4,1317.9L115.1,1313.4L117,1312.8L124.7,1310.4L127.6,1309.8L131.4,1309L134.5,1306.5L137.4,1305.7L145.4,1306.4L150.1,1305.3L155.3,1304.3L159.5,1303.5L160.9,1303.1L168.7,1300.4L176.4,1300.9L182.8,1299.2L186.3,1297.8L191.3,1295.3L201.1,1295.8L211.7,1289.9L220.5,1292.6L230,1293.1L281.5,1293.1L291.4,1292.2L304.1,1286.3L318.2,1271.3L332.3,1264.7L343.6,1289.7L370.4,1284L370.9,1284L382.4,1284.1L406.4,1281.4L419.1,1281.7L432.5,1279.1L445.9,1278.6L460.7,1275.6L460.8,1275.6L474.1,1277.4L488.9,1275L504.4,1274L520,1272.5L534.1,1271.2L550.3,1270L567.3,1267.5L582.1,1267.2L601.8,1265.4L621.6,1263.2L639.9,1261.2L656.9,1260.6L675.2,1259.4L693.5,1257.7L716.1,1255.4L730,1254.2L758.2,1251.7L758.5,1251.7L778,1251.2L800.5,1249.6L822.4,1247.7L847.1,1246.3L886.6,1244.4L910.6,1242.2L933.2,1240.6L933.9,1240.5L945.1,1237.8L984.7,1228.6L1011.5,1224.3L1041.1,1217.6L1073.5,1211.9L1105.2,1207.9L1137.7,1207.3L1167.8,1209.8L1195.3,1211L1225.4,1211.9L1255.4,1212.5L1285.5,1213.7L1315.5,1215.1L1345.6,1215.4L1375.6,1216.4L1406.9,1219.1L1436.5,1219.2L1450,1320.9L1436.5,1220.4L1406.9,1220.3L1375.6,1217.5L1345.6,1216.6L1315.5,1216.3L1285.5,1214.8L1255.4,1213.7L1225.4,1213.1L1195.3,1212.2L1167.8,1211L1137.7,1208.4L1105.2,1209L1073.5,1213.1L1041.1,1218.8L1011.5,1225.6L984.7,1229.8L945.1,1239L933.9,1241.7L933.2,1241.8L910.6,1243.3L886.6,1245.5L847.1,1247.4L822.4,1248.8L800.5,1250.7L778,1252.4L758.5,1252.9L758.2,1252.9L730,1255.3L716.1,1256.5L693.5,1258.7L675.2,1260.3L656.9,1261.6L639.9,1262.1L621.6,1264.1L601.8,1266.2L582.1,1268L567.3,1268.3L550.3,1270.8L534.1,1272L520,1273.2L504.4,1274.7L488.9,1275.6L474.1,1278L460.8,1276.1L460.7,1276.1L445.9,1279.1L432.5,1279.6L419.1,1282.1L406.4,1281.9L382.4,1284.5L370.9,1284.4L370.4,1284.4L343.6,1290.1L332.3,1265L318.2,1271.7L304.1,1286.7L291.4,1292.5L281.5,1293.4L230,1293.4L220.5,1293L211.7,1290.2L201.1,1296.1L191.3,1295.6L186.3,1298.1L182.8,1299.5L176.4,1301.1L168.7,1300.5L160.9,1303.2L159.5,1303.7L155.3,1304.5L150.1,1305.4L145.4,1306.5L137.4,1305.8L134.5,1306.6L131.4,1309.1L127.6,1309.9L124.7,1310.4L117,1312.8L115.1,1313.4L108.4,1317.9L105.3,1316.3L98.6,1316.4L94.4,1317.5L93.8,1317.7L92.5,1317.8L87.9,1318.3L80,1320.9Z" fill="#e2cc9b"/>
<path d="M80,1320.9L87.9,1318.3L92.5,1317.8L93.8,1317.7L94.4,1317.5L98.6,1316.4L105.3,1316.3L108.4,1317.9L115.1,1313.4L117,1312.8L124.7,1310.4L127.6,1309.9L131.4,1309.1L134.5,1306.6L137.4,1305.8L145.4,1306.5L150.1,1305.4L155.3,1304.5L159.5,1303.7L160.9,1303.2L168.7,1300.5L176.4,1301.1L182.8,1299.5L186.3,1298.1L191.3,1295.6L201.1,1296.1L211.7,1290.2L220.5,1293L230,1293.4L281.5,1293.4L291.4,1292.5L304.1,1286.7L318.2,1271.7L332.3,1265L343.6,1290.1L370.4,1284.4L370.9,1284.4L382.4,1284.5L406.4,1281.9L419.1,1282.1L432.5,1279.6L445.9,1279.1L460.7,1276.1L460.8,1276.1L474.1,1278L488.9,1275.6L504.4,1274.7L520,1273.2L534.1,1272L550.3,1270.8L567.3,1268.3L582.1,1268L601.8,1266.2L621.6,1264.1L639.9,1262.1L656.9,1261.6L675.2,1260.3L693.5,1258.7L716.1,1256.5L730,1255.3L758.2,1252.9L758.5,1252.9L778,1252.4L800.5,1250.7L822.4,1248.8L847.1,1247.4L886.6,1245.5L910.6,1243.3L933.2,1241.8L933.9,1241.7L945.1,1239L984.7,1229.8L1011.5,1225.6L1041.1,1218.8L1073.5,1213.1L1105.2,1209L1137.7,1208.4L1167.8,1211L1195.3,1212.2L1225.4,1213.1L1255.4,1213.7L1285.5,1214.8L1315.5,1216.3L1345.6,1216.6L1375.6,1217.5L1406.9,1220.3L1436.5,1220.4L1450,1320.9L1436.5,1221.7L1406.9,1221.6L1375.6,1218.9L1345.6,1217.9L1315.5,1217.6L1285.5,1216.2L1255.4,1215L1225.4,1214.4L1195.3,1213.5L1167.8,1212.3L1137.7,1209.8L1105.2,1210.4L1073.5,1214.4L1041.1,1220.1L1011.5,1226.8L984.7,1231.1L945.1,1240.3L933.9,1243L933.2,1243.1L910.6,1244.6L886.6,1246.7L847.1,1248.6L822.4,1249.9L800.5,1251.7L778,1253.4L758.5,1253.8L758.2,1253.8L730,1256.2L716.1,1257.4L693.5,1259.6L675.2,1261.1L656.9,1262.4L639.9,1262.9L621.6,1264.8L601.8,1266.9L582.1,1268.7L567.3,1269L550.3,1271.4L534.1,1272.6L520,1273.7L504.4,1275.2L488.9,1276.1L474.1,1278.4L460.8,1276.6L460.7,1276.5L445.9,1279.6L432.5,1280L419.1,1282.5L406.4,1282.2L382.4,1284.8L370.9,1284.7L370.4,1284.7L343.6,1290.4L332.3,1265.3L318.2,1271.9L304.1,1286.9L291.4,1292.8L281.5,1293.7L230,1293.7L220.5,1293.2L211.7,1290.4L201.1,1296.2L191.3,1295.7L186.3,1298.1L182.8,1299.5L176.4,1301.2L168.7,1300.6L160.9,1303.3L159.5,1303.7L155.3,1304.5L150.1,1305.5L145.4,1306.6L137.4,1305.8L134.5,1306.6L131.4,1309.1L127.6,1309.9L124.7,1310.4L117,1312.8L115.1,1313.4L108.4,1317.9L105.3,1316.3L98.6,1316.4L94.4,1317.5L93.8,1317.7L92.5,1317.8L87.9,1318.3L80,1320.9Z" fill="#7b403c"/>
<path d="M80,1320.9L87.9,1318.3L92.5,1317.8L93.8,1317.7L94.4,1317.5L98.6,1316.4L105.3,1316.3L108.4,1317.9L115.1,1313.4L117,1312.8L124.7,1310.4L127.6,1309.9L131.4,1309.1L134.5,1306.6L137.4,1305.8L145.4,1306.6L150.1,1305.5L155.3,1304.5L159.5,1303.7L160.9,1303.3L168.7,1300.6L176.4,1301.2L182.8,1299.5L186.3,1298.1L191.3,1295.7L201.1,1296.2L211.7,1290.4L220.5,1293.2L230,1293.7L281.5,1293.7L291.4,1292.8L304.1,1286.9L318.2,1271.9L332.3,1265.3L343.6,1290.4L370.4,1284.7L370.9,1284.7L382.4,1284.8L406.4,1282.2L419.1,1282.5L432.5,1280L445.9,1279.6L460.7,1276.5L460.8,1276.6L474.1,1278.4L488.9,1276.1L504.4,1275.2L520,1273.7L534.1,1272.6L550.3,1271.4L567.3,1269L582.1,1268.7L601.8,1266.9L621.6,1264.8L639.9,1262.9L656.9,1262.4L675.2,1261.1L693.5,1259.6L716.1,1257.4L730,1256.2L758.2,1253.8L758.5,1253.8L778,1253.4L800.5,1251.7L822.4,1249.9L847.1,1248.6L886.6,1246.7L910.6,1244.6L933.2,1243.1L933.9,1243L945.1,1240.3L984.7,1231.1L1011.5,1226.8L1041.1,1220.1L1073.5,1214.4L1105.2,1210.4L1137.7,1209.8L1167.8,1212.3L1195.3,1213.5L1225.4,1214.4L1255.4,1215L1285.5,1216.2L1315.5,1217.6L1345.6,1217.9L1375.6,1218.9L1406.9,1221.6L1436.5,1221.7L1450,1320.9L1436.5,1222.9L1406.9,1222.8L1375.6,1220L1345.6,1219.1L1315.5,1218.8L1285.5,1217.3L1255.4,1216.2L1225.4,1215.6L1195.3,1214.7L1167.8,1213.5L1137.7,1210.9L1105.2,1211.5L1073.5,1215.4L1041.1,1221.1L1011.5,1227.8L984.7,1232.1L945.1,1241.4L933.9,1244.1L933.2,1244.3L910.6,1245.7L886.6,1247.7L847.1,1249.6L822.4,1250.9L800.5,1252.7L778,1254.3L758.5,1254.8L758.2,1254.8L730,1257.2L716.1,1258.3L693.5,1260.5L675.2,1262L656.9,1263.2L639.9,1263.7L621.6,1265.6L601.8,1267.6L582.1,1269.4L567.3,1269.6L550.3,1272L534.1,1273.1L520,1274.3L504.4,1275.7L488.9,1276.6L474.1,1278.9L460.8,1277L460.7,1277L445.9,1280L432.5,1280.4L419.1,1282.9L406.4,1282.6L382.4,1285.2L370.9,1285.1L370.4,1285.1L343.6,1290.7L332.3,1265.6L318.2,1272.2L304.1,1287.2L291.4,1293.1L281.5,1293.9L230,1293.9L220.5,1293.5L211.7,1290.5L201.1,1296.4L191.3,1295.8L186.3,1298.2L182.8,1299.6L176.4,1301.2L168.7,1300.7L160.9,1303.3L159.5,1303.8L155.3,1304.5L150.1,1305.5L145.4,1306.6L137.4,1305.8L134.5,1306.6L131.4,1309.1L127.6,1309.9L124.7,1310.4L117,1312.8L115.1,1313.4L108.4,1317.9L105.3,1316.3L98.6,1316.4L94.4,1317.5L93.8,1317.7L92.5,1317.8L87.9,1318.3L80,1320.9Z" fill="#a14f4d"/>
<path d="M80,1320.9L87.9,1318.3L92.5,1317.8L93.8,1317.7L94.4,1317.5L98.6,1316.4L105.3,1316.3L108.4,1317.9L115.1,1313.4L117,1312.8L124.7,1310.4L127.6,1309.9L131.4,1309.1L134.5,1306.6L137.4,1305.8L145.4,1306.6L150.1,1305.5L155.3,1304.5L159.5,1303.8L160.9,1303.3L168.7,1300.7L176.4,1301.2L182.8,1299.6L186.3,1298.2L191.3,1295.8L201.1,1296.4L211.7,1290.5L220.5,1293.5L230,1293.9L281.5,1293.9L291.4,1293.1L304.1,1287.2L318.2,1272.2L332.3,1265.6L343.6,1290.7L370.4,1285.1L370.9,1285.1L382.4,1285.2L406.4,1282.6L419.1,1282.9L432.5,1280.4L445.9,1280L460.7,1277L460.8,1277L474.1,1278.9L488.9,1276.6L504.4,1275.7L520,1274.3L534.1,1273.1L550.3,1272L567.3,1269.6L582.1,1269.4L601.8,1267.6L621.6,1265.6L639.9,1263.7L656.9,1263.2L675.2,1262L693.5,1260.5L716.1,1258.3L730,1257.2L758.2,1254.8L758.5,1254.8L778,1254.3L800.5,1252.7L822.4,1250.9L847.1,1249.6L886.6,1247.7L910.6,1245.7L933.2,1244.3L933.9,1244.1L945.1,1241.4L984.7,1232.1L1011.5,1227.8L1041.1,1221.1L1073.5,1215.4L1105.2,1211.5L1137.7,1210.9L1167.8,1213.5L1195.3,1214.7L1225.4,1215.6L1255.4,1216.2L1285.5,1217.3L1315.5,1218.8L1345.6,1219.1L1375.6,1220L1406.9,1222.8L1436.5,1222.9L1450,1320.9L1436.5,1224L1406.9,1223.9L1375.6,1221.1L1345.6,1220.1L1315.5,1219.9L1285.5,1218.4L1255.4,1217.3L1225.4,1216.6L1195.3,1215.8L1167.8,1214.6L1137.7,1212L1105.2,1212.6L1073.5,1216.5L1041.1,1222.1L1011.5,1228.8L984.7,1233.2L945.1,1242.5L933.9,1245.2L933.2,1245.4L910.6,1246.8L886.6,1248.8L847.1,1250.6L822.4,1251.9L800.5,1253.7L778,1255.3L758.5,1255.8L758.2,1255.8L730,1258.1L716.1,1259.3L693.5,1261.4L675.2,1262.9L656.9,1264.1L639.9,1264.6L621.6,1266.4L601.8,1268.3L582.1,1270.1L567.3,1270.3L550.3,1272.6L534.1,1273.7L520,1274.8L504.4,1276.2L488.9,1277.2L474.1,1279.4L460.8,1277.5L460.7,1277.5L445.9,1280.5L432.5,1280.9L419.1,1283.4L406.4,1283.1L382.4,1285.7L370.9,1285.6L370.4,1285.6L343.6,1291.1L332.3,1265.9L318.2,1272.6L304.1,1287.6L291.4,1293.4L281.5,1294.3L230,1294.3L220.5,1293.8L211.7,1290.7L201.1,1296.5L191.3,1295.9L186.3,1298.3L182.8,1299.7L176.4,1301.3L168.7,1300.7L160.9,1303.4L159.5,1303.8L155.3,1304.6L150.1,1305.5L145.4,1306.6L137.4,1305.8L134.5,1306.6L131.4,1309.1L127.6,1309.9L124.7,1310.4L117,1312.8L115.1,1313.4L108.4,1317.9L105.3,1316.3L98.6,1316.4L94.4,1317.5L93.8,1317.7L92.5,1317.8L87.9,1318.3L80,1320.9Z" fill="#c8686d"/>
<path d="M80,1320.9L87.9,1318.3L92.5,1317.8L93.8,1317.7L94.4,1317.5L98.6,1316.4L105.3,1316.3L108.4,1317.9L115.1,1313.4L117,1312.8L124.7,1310.4L127.6,1309.9L131.4,1309.1L134.5,1306.6L137.4,1305.8L145.4,1306.6L150.1,1305.5L155.3,1304.6L159.5,1303.8L160.9,1303.4L168.7,1300.7L176.4,1301.3L182.8,1299.7L186.3,1298.3L191.3,1295.9L201.1,1296.5L211.7,1290.7L220.5,1293.8L230,1294.3L281.5,1294.3L291.4,1293.4L304.1,1287.6L318.2,1272.6L332.3,1265.9L343.6,1291.1L370.4,1285.6L370.9,1285.6L382.4,1285.7L406.4,1283.1L419.1,1283.4L432.5,1280.9L445.9,1280.5L460.7,1277.5L460.8,1277.5L474.1,1279.4L488.9,1277.2L504.4,1276.2L520,1274.8L534.1,1273.7L550.3,1272.6L567.3,1270.3L582.1,1270.1L601.8,1268.3L621.6,1266.4L639.9,1264.6L656.9,1264.1L675.2,1262.9L693.5,1261.4L716.1,1259.3L730,1258.1L758.2,1255.8L758.5,1255.8L778,1255.3L800.5,1253.7L822.4,1251.9L847.1,1250.6L886.6,1248.8L910.6,1246.8L933.2,1245.4L933.9,1245.2L945.1,1242.5L984.7,1233.2L1011.5,1228.8L1041.1,1222.1L1073.5,1216.5L1105.2,1212.6L1137.7,1212L1167.8,1214.6L1195.3,1215.8L1225.4,1216.6L1255.4,1217.3L1285.5,1218.4L1315.5,1219.9L1345.6,1220.1L1375.6,1221.1L1406.9,1223.9L1436.5,1224L1450,1320.9L1436.5,1320.9L1406.9,1320.9L1375.6,1320.9L1345.6,1320.9L1315.5,1320.9L1285.5,1320.9L1255.4,1320.9L1225.4,1320.9L1195.3,1320.9L1167.8,1320.9L1137.7,1320.9L1105.2,1320.9L1073.5,1320.9L1041.1,1320.9L1011.5,1320.9L984.7,1320.9L945.1,1320.9L933.9,1320.9L933.2,1320.9L910.6,1320.9L886.6,1320.9L847.1,1320.9L822.4,1320.9L800.5,1320.9L778,1320.9L758.5,1320.9L758.2,1320.9L730,1320.9L716.1,1320.9L693.5,1320.9L675.2,1320.9L656.9,1320.9L639.9,1320.9L621.6,1320.9L601.8,1320.9L582.1,1320.9L567.3,1320.9L550.3,1320.9L534.1,1320.9L520,1320.9L504.4,1320.9L488.9,1320.9L474.1,1320.9L460.8,1320.9L460.7,1320.9L445.9,1320.9L432.5,1320.9L419.1,1320.9L406.4,1320.9L382.4,1320.9L370.9,1320.9L370.4,1320.9L343.6,1320.9L332.3,1320.9L318.2,1320.9L304.1,1320.9L291.4,1320.9L281.5,1320.9L230,1320.9L220.5,1320.9L211.7,1320.9L201.1,1320.9L191.3,1320.9L186.3,1320.9L182.8,1320.9L176.4,1320.9L168.7,1320.9L160.9,1320.9L159.5,1320.9L155.3,1320.9L150.1,1320.9L145.4,1320.9L137.4,1320.9L134.5,1320.9L131.4,1320.9L127.6,1320.9L124.7,1320.9L117,1320.9L115.1,1320.9L108.4,1320.9L105.3,1320.9L98.6,1320.9L94.4,1320.9L93.8,1320.9L92.5,1320.9L87.9,1320.9L80,1320.9Z" fill="#db9a9d"/>
</g>
<g class="xaxis" stroke="#888" stroke-width="1.4">
<line x1="79.1" y1="1320.9" x2="1601.5" y2="1320.9"/>
<line x1="80" y1="1320.9" x2="80" y2="1328.8"/>
<line x1="165.3" y1="1320.9" x2="165.3" y2="1328.8"/>
<line x1="248.9" y1="1320.9" x2="248.9" y2="1328.8"/>
<line x1="334.2" y1="1320.9" x2="334.2" y2="1328.8"/>
<line x1="417.8" y1="1320.9" x2="417.8" y2="1328.8"/>
<line x1="503.1" y1="1320.9" x2="503.1" y2="1328.8"/>
<line x1="586.8" y1="1320.9" x2="586.8" y2="1328.8"/>
<line x1="672" y1="1320.9" x2="672" y2="1328.8"/>
<line x1="755.7" y1="1320.9" x2="755.7" y2="1328.8"/>
<line x1="840.9" y1="1320.9" x2="840.9" y2="1328.8"/>
<line x1="924.6" y1="1320.9" x2="924.6" y2="1328.8"/>
<line x1="1009.9" y1="1320.9" x2="1009.9" y2="1328.8"/>
<line x1="1093.5" y1="1320.9" x2="1093.5" y2="1328.8"/>
<line x1="1178.8" y1="1320.9" x2="1178.8" y2="1328.8"/>
<line x1="1262.5" y1="1320.9" x2="1262.5" y2="1328.8"/>
<line x1="1347.7" y1="1320.9" x2="1347.7" y2="1328.8"/>
<line x1="1431.4" y1="1320.9" x2="1431.4" y2="1328.8"/>
<line x1="1516.6" y1="1320.9" x2="1516.6" y2="1328.8"/>
<line x1="1600.3" y1="1320.9" x2="1600.3" y2="1328.8"/>
</g>
<g class="xlabels" font-family="'Liberation Sans', Arial, Helvetica, sans-serif" font-size="15.8" fill="#000" stroke="#000" stroke-width="0.3" text-anchor="middle">
<text x="80" y="1345.2" text-anchor="start">0</text>
<text x="165.3" y="1345.2">5</text>
<text x="248.9" y="1345.2">10</text>
<text x="334.2" y="1345.2">15</text>
<text x="417.8" y="1345.2">20</text>
<text x="503.1" y="1345.2">25</text>
<text x="586.8" y="1345.2">30</text>
<text x="672" y="1345.2">35</text>
<text x="755.7" y="1345.2">40</text>
<text x="840.9" y="1345.2">45</text>
<text x="924.6" y="1345.2">50</text>
<text x="1009.9" y="1345.2">55</text>
<text x="1093.5" y="1345.2">60</text>
<text x="1178.8" y="1345.2">65</text>
<text x="1262.5" y="1345.2">70</text>
<text x="1347.7" y="1345.2">75</text>
<text x="1431.4" y="1345.2">80</text>
<text x="1516.6" y="1345.2">85</text>
<text x="1600.3" y="1345.2" text-anchor="end">90</text>
</g>
<text x="840.6" y="1368" font-family="'Liberation Sans', Arial, Helvetica, sans-serif" font-size="17.4" font-weight="bold" text-anchor="middle" fill="#000" stroke="#000" stroke-width="0.25">Time (s)</text>
<g class="legend" font-family="'Liberation Sans', Arial, Helvetica, sans-serif" font-size="15.8" fill="#000" stroke="#000" stroke-width="0.3">
<circle cx="1640.9" cy="23.8" r="7.9" fill="#393b75" stroke="none"/>
<text x="1657" y="28.2">0x107897e00</text>
<circle cx="1640.9" cy="44.3" r="7.9" fill="#52549e" stroke="none"/>
<text x="1657" y="48.7">0x10465bee8</text>
<circle cx="1640.9" cy="64.8" r="7.9" fill="#6c6ec9" stroke="none"/>
<text x="1657" y="69.2">0x105eb44a0</text>
<circle cx="1640.9" cy="85.4" r="7.9" fill="#9c9ed9" stroke="none"/>
<text x="1657" y="89.8">0x107268e08</text>
<circle cx="1640.9" cy="105.9" r="7.9" fill="#677841" stroke="none"/>
<text x="1657" y="110.3">0x105f36a18</text>
<circle cx="1640.9" cy="126.4" r="7.9" fill="#90a15c" stroke="none"/>
<text x="1657" y="130.8">0x106166880</text>
<circle cx="1640.9" cy="146.9" r="7.9" fill="#bace78" stroke="none"/>
<text x="1657" y="151.3">0x1046582c0</text>
<circle cx="1640.9" cy="167.4" r="7.9" fill="#d0dba3" stroke="none"/>
<text x="1657" y="171.8">0x105f365b8</text>
<circle cx="1640.9" cy="188" r="7.9" fill="#876e3b" stroke="none"/>
<text x="1657" y="192.4">0x105eaa270</text>
<circle cx="1640.9" cy="208.5" r="7.9" fill="#b89f4b" stroke="none"/>
<text x="1657" y="212.9">0x105f358c0</text>
<circle cx="1640.9" cy="229" r="7.9" fill="#e0bc63" stroke="none"/>
<text x="1657" y="233.4">0x105eb3000</text>
<circle cx="1640.9" cy="249.5" r="7.9" fill="#e2cc9b" stroke="none"/>
<text x="1657" y="253.9">0x105f35fa0</text>
<circle cx="1640.9" cy="270" r="7.9" fill="#7b403c" stroke="none"/>
<text x="1657" y="274.4">0x105f36838</text>
<circle cx="1640.9" cy="290.6" r="7.9" fill="#a14f4d" stroke="none"/>
<text x="1657" y="295">0x104653770</text>
<circle cx="1640.9" cy="311.1" r="7.9" fill="#c8686d" stroke="none"/>
<text x="1657" y="315.5">0x1045debc0</text>
<circle cx="1640.9" cy="331.6" r="7.9" fill="#db9a9d" stroke="none"/>
<text x="1657" y="336">OTHER</text>
</g>
</svg>
</body>
</html>
